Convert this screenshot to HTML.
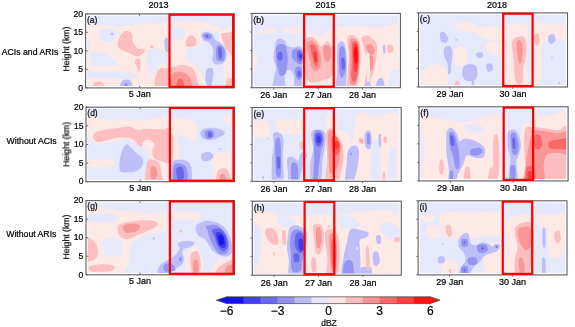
<!DOCTYPE html><html><head><meta charset="utf-8"><style>html,body{margin:0;padding:0;background:#fff;overflow:hidden;}svg{display:block;} text{will-change:transform;}</style></head><body>
<svg width="575" height="327" viewBox="0 0 575 327" font-family='"Liberation Sans", sans-serif'><style>text{stroke:#000;stroke-width:0.22px;}</style>
<defs>
<clipPath id="cp00"><rect x="87.4" y="15.7" width="145.1" height="70.4"/></clipPath>
<clipPath id="cp01"><rect x="253.7" y="15.2" width="144.9" height="70.7"/></clipPath>
<clipPath id="cp02"><rect x="420.3" y="14.7" width="145.4" height="70.5"/></clipPath>
<clipPath id="cp10"><rect x="87.8" y="109.0" width="144.8" height="70.9"/></clipPath>
<clipPath id="cp11"><rect x="253.9" y="109.3" width="145.5" height="70.2"/></clipPath>
<clipPath id="cp12"><rect x="420.8" y="108.6" width="145.5" height="70.5"/></clipPath>
<clipPath id="cp20"><rect x="87.8" y="202.4" width="144.9" height="70.6"/></clipPath>
<clipPath id="cp21"><rect x="254.2" y="203.0" width="145.4" height="70.4"/></clipPath>
<clipPath id="cp22"><rect x="419.9" y="202.6" width="145.3" height="70.5"/></clipPath>
<filter id="bl" x="-5%" y="-5%" width="110%" height="110%"><feGaussianBlur stdDeviation="0.6"/></filter>
</defs>
<g clip-path="url(#cp00)">
<rect x="85.6" y="13.9" width="148.7" height="74.0" fill="#e6e8fc"/>
<g filter="url(#bl)">
<path d="M82.7,26.4C85.4,22.0 92.6,24.9 98.6,24.9C104.6,24.9 111.8,26.6 119.0,26.4C126.2,26.3 134.8,24.4 141.6,24.2C148.5,24.0 156.9,21.4 160.0,25.3C163.1,29.3 161.2,43.2 160.0,47.9C158.8,52.7 156.0,52.5 153.0,53.6C149.9,54.7 146.9,54.9 141.6,54.7C136.4,54.5 126.9,53.2 121.3,52.5C115.6,51.7 114.1,50.4 107.7,50.2C101.2,50.0 86.9,55.3 82.7,51.3C78.6,47.4 80.1,30.9 82.7,26.4Z" fill="#fde9e5"/>
<path d="M157.9,25.3C160.3,18.7 167.9,23.8 172.6,23.1C177.3,22.3 180.9,21.0 186.2,20.8C191.5,20.6 199.0,21.0 204.3,21.9C209.6,22.9 215.6,24.7 217.9,26.4C220.2,28.1 220.2,31.5 217.9,32.1C215.6,32.7 207.0,29.1 204.3,29.8C201.7,30.6 202.6,31.7 202.1,36.6C201.5,41.5 204.3,55.1 200.9,59.3C197.5,63.4 186.9,61.0 181.7,61.5C176.4,62.1 173.2,62.5 169.2,62.7C165.2,62.8 159.8,68.9 157.9,62.7C156.0,56.4 155.4,31.9 157.9,25.3Z" fill="#fde9e5"/>
<path d="M99.7,31.0C100.5,28.9 104.1,28.7 106.5,28.7C109.0,28.7 113.1,29.3 114.5,31.0C115.9,32.7 115.7,37.0 114.9,38.9C114.2,40.8 112.1,41.9 109.9,42.3C107.8,42.7 103.7,43.0 102.0,41.2C100.3,39.3 99.0,33.0 99.7,31.0Z" fill="#e6e8fc"/>
<path d="M82.7,38.9C83.7,37.2 87.3,38.9 88.4,40.0C89.5,41.2 89.7,44.0 89.5,45.7C89.3,47.4 88.4,49.5 87.3,50.2C86.1,51.0 83.5,52.1 82.7,50.2C82.0,48.3 81.8,40.6 82.7,38.9Z" fill="#e6e8fc"/>
<path d="M83.4,49.4C88.9,42.3 105.6,49.9 116.3,49.4C127.0,48.9 137.2,46.8 147.6,46.3C158.0,45.7 173.7,38.7 178.9,46.3C184.1,53.8 194.8,84.0 178.9,91.6C163.0,99.2 99.3,98.6 83.4,91.6C67.5,84.6 78.0,56.4 83.4,49.4Z" fill="#fde9e5"/>
<path d="M84.2,41.6C85.0,40.3 87.9,41.6 88.9,42.3C90.0,43.1 90.5,45.0 90.5,46.3C90.5,47.6 90.0,49.5 88.9,50.2C87.9,50.8 85.0,51.6 84.2,50.2C83.4,48.7 83.4,42.9 84.2,41.6Z" fill="#e6e8fc"/>
<path d="M91.3,53.3C92.8,51.6 97.8,51.5 100.7,51.7C103.5,52.0 106.1,53.6 108.5,54.9C110.8,56.2 113.6,57.9 114.7,59.5C115.9,61.2 117.3,64.1 115.5,65.0C113.7,66.0 107.3,65.2 103.8,65.3C100.3,65.5 96.5,66.4 94.4,65.8C92.3,65.2 91.8,64.0 91.3,61.9C90.7,59.8 89.7,55.0 91.3,53.3Z" fill="#e6e8fc"/>
<path d="M146.8,51.7C147.7,49.3 149.8,49.4 152.3,49.1C154.8,48.7 159.1,48.6 161.7,49.7C164.3,50.8 166.7,52.0 167.6,55.6C168.6,59.2 168.7,68.1 167.2,71.3C165.7,74.4 161.3,74.6 158.6,74.7C155.8,74.8 152.7,73.9 150.7,72.1C148.8,70.2 147.5,66.8 146.8,63.5C146.2,60.1 145.9,54.1 146.8,51.7Z" fill="#e6e8fc"/>
<path d="M84.2,70.5C87.0,69.4 95.3,71.9 100.7,72.1C106.0,72.2 110.6,71.0 116.3,71.3C122.0,71.5 131.7,72.6 135.1,73.6C138.5,74.7 138.5,76.6 136.7,77.5C134.8,78.4 128.8,79.0 124.1,79.1C119.4,79.2 115.1,78.4 108.5,78.3C101.8,78.2 88.3,79.6 84.2,78.3C80.2,77.0 81.5,71.5 84.2,70.5Z" fill="#e6e8fc"/>
<path d="M84.2,49.4C84.7,45.9 86.7,47.6 87.3,49.4C87.9,51.2 87.9,56.8 87.8,60.3C87.7,63.8 87.2,68.8 86.6,70.5C86.0,72.2 84.6,74.0 84.2,70.5C83.8,67.0 83.7,52.9 84.2,49.4Z" fill="#e6e8fc"/>
<path d="M188.5,49.1C190.9,46.6 197.7,44.7 200.9,44.6C204.1,44.4 205.9,45.5 207.7,47.9C209.5,50.4 211.9,56.2 211.6,59.3C211.2,62.4 208.5,65.4 205.5,66.5C202.4,67.6 196.2,66.8 193.0,65.6C189.8,64.4 186.9,62.0 186.2,59.3C185.4,56.5 186.0,51.5 188.5,49.1Z" fill="#e6e8fc"/>
<path d="M171.5,29.4C173.0,27.7 179.4,27.2 181.7,28.0C184.0,28.9 185.3,32.5 185.3,34.4C185.3,36.3 183.8,38.7 181.7,39.3C179.5,40.0 174.3,40.1 172.6,38.4C170.9,36.8 170.0,31.1 171.5,29.4Z" fill="#e6e8fc"/>
<path d="M219.0,31.0C220.0,28.0 224.1,30.0 227.0,29.8C229.8,29.7 234.5,19.7 236.0,29.8C237.5,40.0 237.9,80.8 236.0,90.9C234.2,101.1 226.8,94.3 224.7,90.9C222.6,87.5 224.1,77.7 223.6,70.6C223.0,63.4 222.1,54.5 221.3,47.9C220.6,41.3 218.1,34.0 219.0,31.0Z" fill="#fde9e5"/>
<path d="M122.4,33.2C123.3,32.3 124.5,31.2 125.8,31.0C127.1,30.8 129.2,31.2 130.3,32.1C131.5,33.0 132.1,34.9 132.6,36.6C133.0,38.3 132.3,40.4 133.0,42.3C133.8,44.2 135.7,46.8 137.1,47.9C138.5,49.1 140.3,48.7 141.6,49.1C143.0,49.5 144.9,49.5 145.0,50.2C145.2,51.0 143.7,52.7 142.8,53.6C141.8,54.5 140.7,55.5 139.4,55.9C138.1,56.2 136.4,56.2 134.8,55.9C133.3,55.5 132.0,54.4 130.3,53.6C128.6,52.8 126.5,52.3 124.7,51.3C122.8,50.4 120.1,49.3 119.0,47.9C117.9,46.6 117.7,45.3 117.9,43.4C118.0,41.5 119.4,38.3 120.1,36.6C120.9,34.9 121.4,34.2 122.4,33.2Z" fill="#fcbebe"/>
<path d="M136.0,59.3C136.7,58.6 138.6,58.2 139.4,58.8C140.1,59.4 140.4,60.7 140.5,62.7C140.6,64.6 140.2,69.1 139.8,70.6C139.5,72.1 138.8,72.5 138.2,71.7C137.7,71.0 137.2,67.6 136.7,66.0C136.1,64.5 135.0,63.8 134.8,62.7C134.7,61.5 135.2,59.9 136.0,59.3Z" fill="#fcbebe"/>
<path d="M153.7,46.8C153.7,47.1 153.4,47.5 153.1,47.8C152.8,48.0 152.3,48.2 151.8,48.2C151.4,48.2 150.9,48.0 150.6,47.8C150.3,47.5 150.0,47.1 150.0,46.8C150.0,46.5 150.3,46.1 150.6,45.9C150.9,45.6 151.4,45.5 151.8,45.5C152.3,45.5 152.8,45.6 153.1,45.9C153.4,46.1 153.7,46.5 153.7,46.8Z" fill="#fcbebe"/>
<path d="M94.1,83.0C95.0,81.4 97.1,81.4 98.6,81.4C100.1,81.4 102.2,81.4 103.1,83.0C104.1,84.6 106.0,89.6 104.3,90.9C102.6,92.3 94.6,92.3 92.9,90.9C91.2,89.6 93.1,84.6 94.1,83.0Z" fill="#fcbebe"/>
<path d="M126.2,36.6C126.2,36.9 126.2,37.2 126.1,37.4C126.0,37.6 125.9,37.8 125.8,37.8C125.7,37.8 125.5,37.6 125.5,37.4C125.4,37.2 125.3,36.9 125.3,36.6C125.3,36.4 125.4,36.0 125.5,35.8C125.5,35.6 125.7,35.5 125.8,35.5C125.9,35.5 126.0,35.6 126.1,35.8C126.2,36.0 126.2,36.4 126.2,36.6Z" fill="#fa9696"/>
<path d="M125.8,45.7C125.8,45.8 125.7,46.0 125.7,46.2C125.6,46.3 125.4,46.4 125.3,46.4C125.2,46.4 125.1,46.3 125.0,46.2C124.9,46.0 124.9,45.8 124.9,45.7C124.9,45.5 124.9,45.3 125.0,45.2C125.1,45.1 125.2,45.0 125.3,45.0C125.4,45.0 125.6,45.1 125.7,45.2C125.7,45.3 125.8,45.5 125.8,45.7Z" fill="#fa9696"/>
<path d="M99.5,36.2C99.5,36.3 99.4,36.4 99.4,36.5C99.3,36.6 99.2,36.6 99.0,36.6C98.9,36.6 98.8,36.6 98.7,36.5C98.7,36.4 98.6,36.3 98.6,36.2C98.6,36.1 98.7,35.9 98.7,35.9C98.8,35.8 98.9,35.7 99.0,35.7C99.2,35.7 99.3,35.8 99.4,35.9C99.4,35.9 99.5,36.1 99.5,36.2Z" fill="#fcbebe"/>
<path d="M113.8,33.9C113.8,34.2 113.6,34.6 113.3,34.9C113.0,35.1 112.6,35.3 112.2,35.3C111.8,35.3 111.3,35.1 111.1,34.9C110.8,34.6 110.6,34.2 110.6,33.9C110.6,33.6 110.8,33.2 111.1,33.0C111.3,32.7 111.8,32.6 112.2,32.6C112.6,32.6 113.0,32.7 113.3,33.0C113.6,33.2 113.8,33.6 113.8,33.9Z" fill="#bebef8"/>
<path d="M121.3,81.9C122.2,80.0 124.3,79.8 125.8,79.6C127.3,79.4 129.2,79.8 130.3,80.8C131.5,81.7 132.0,83.6 132.6,85.3C133.1,87.0 135.8,90.0 133.7,90.9C131.6,91.9 122.2,92.5 120.1,90.9C118.0,89.4 120.3,83.8 121.3,81.9Z" fill="#bebef8"/>
<path d="M123.1,86.0C123.6,84.6 124.9,83.0 125.8,83.0C126.7,83.0 127.9,84.6 128.5,86.0C129.1,87.3 130.2,90.1 129.2,90.9C128.2,91.8 123.4,91.8 122.4,90.9C121.4,90.1 122.5,87.3 123.1,86.0Z" fill="#9494f2"/>
<path d="M164.7,38.9C165.2,37.7 167.3,37.5 168.1,38.4C168.8,39.4 169.1,42.4 169.2,44.6C169.3,46.7 169.1,50.2 168.5,51.3C168.0,52.5 166.4,52.3 165.8,51.3C165.2,50.4 164.9,47.8 164.7,45.7C164.5,43.6 164.1,40.1 164.7,38.9Z" fill="#bebef8"/>
<path d="M186.2,40.0C186.8,38.7 188.3,36.1 189.6,35.5C190.9,34.9 193.0,35.5 194.1,36.6C195.3,37.8 196.2,40.8 196.4,42.3C196.6,43.8 196.8,44.9 195.3,45.7C193.7,46.4 188.9,47.2 187.3,46.8C185.7,46.4 185.9,44.6 185.7,43.4C185.5,42.3 185.5,41.3 186.2,40.0Z" fill="#fcbebe"/>
<path d="M221.3,34.4C221.7,32.3 224.5,33.4 227.0,33.2C229.4,33.0 234.5,28.9 236.0,33.2C237.5,37.6 237.2,56.1 236.0,59.3C234.9,62.5 231.1,54.7 229.2,52.5C227.4,50.2 226.0,48.7 224.7,45.7C223.4,42.7 220.9,36.4 221.3,34.4Z" fill="#fcbebe"/>
<path d="M201.6,34.4C202.0,33.0 203.7,32.2 205.5,32.1C207.2,32.0 210.5,32.6 212.2,33.9C213.9,35.2 214.1,38.4 215.6,40.0C217.2,41.6 219.6,41.9 221.3,43.4C223.0,44.9 225.0,46.6 225.8,49.1C226.7,51.5 226.8,55.8 226.3,58.1C225.8,60.5 224.7,62.3 222.9,63.3C221.1,64.4 217.4,64.9 215.6,64.2C213.9,63.6 212.6,61.6 212.2,59.3C211.9,56.9 213.8,52.8 213.4,50.2C213.0,47.6 211.7,45.1 210.0,43.4C208.3,41.7 204.6,41.5 203.2,40.0C201.8,38.5 201.2,35.7 201.6,34.4Z" fill="#bebef8"/>
<path d="M203.2,34.8C203.4,33.9 205.6,33.1 207.0,33.2C208.4,33.3 211.0,34.6 211.6,35.5C212.2,36.4 211.7,38.3 210.7,38.9C209.6,39.5 206.7,39.6 205.5,38.9C204.2,38.2 202.9,35.8 203.2,34.8Z" fill="#9494f2"/>
<path d="M216.8,46.8C217.5,45.2 218.9,44.9 220.2,45.2C221.4,45.6 223.5,47.1 224.3,49.1C225.0,51.0 225.0,55.0 224.7,57.0C224.4,59.0 223.7,60.5 222.4,61.1C221.2,61.6 218.5,61.4 217.5,60.4C216.4,59.3 216.2,57.0 216.1,54.7C216.0,52.5 216.1,48.4 216.8,46.8Z" fill="#9494f2"/>
<path d="M208.6,36.2C208.6,36.4 208.4,36.8 208.2,37.0C207.9,37.2 207.4,37.3 207.0,37.3C206.7,37.3 206.2,37.2 205.9,37.0C205.7,36.8 205.5,36.4 205.5,36.2C205.5,35.9 205.7,35.6 205.9,35.4C206.2,35.2 206.7,35.0 207.0,35.0C207.4,35.0 207.9,35.2 208.2,35.4C208.4,35.6 208.6,35.9 208.6,36.2Z" fill="#6868ec"/>
<path d="M218.4,47.9C218.7,46.9 220.0,46.9 220.6,47.5C221.2,48.1 221.8,49.6 222.0,51.3C222.1,53.1 222.0,57.0 221.5,58.1C221.1,59.3 219.8,58.9 219.3,58.1C218.7,57.4 218.5,55.3 218.4,53.6C218.2,51.9 218.0,49.0 218.4,47.9Z" fill="#6868ec"/>
<path d="M206.6,69.4C207.7,67.9 211.1,67.6 212.2,68.3C213.4,69.1 213.4,71.7 213.4,74.0C213.4,76.2 212.8,79.1 212.2,81.9C211.7,84.7 211.1,89.4 210.0,90.9C208.8,92.5 206.2,93.2 205.5,90.9C204.7,88.7 205.3,80.9 205.5,77.4C205.6,73.8 205.5,71.0 206.6,69.4Z" fill="#bebef8"/>
<path d="M157.9,68.3C159.6,63.6 164.1,64.0 168.1,62.7C172.0,61.3 177.5,60.4 181.7,60.4C185.8,60.4 190.2,61.3 193.0,62.7C195.8,64.0 197.0,65.9 198.7,68.3C200.4,70.8 202.2,73.6 203.2,77.4C204.1,81.1 211.9,88.7 204.3,90.9C196.8,93.2 165.6,94.7 157.9,90.9C150.1,87.2 156.2,73.0 157.9,68.3Z" fill="#fde9e5"/>
<path d="M157.9,70.6C159.9,66.7 166.4,68.8 170.3,67.9C174.3,66.9 178.1,65.0 181.7,64.9C185.2,64.8 189.6,65.9 191.9,67.2C194.1,68.5 194.3,70.4 195.3,72.8C196.2,75.3 197.1,78.9 197.5,81.9C197.9,84.9 204.1,89.4 197.5,90.9C190.9,92.5 164.5,94.3 157.9,90.9C151.3,87.5 155.8,74.4 157.9,70.6Z" fill="#fcbebe"/>
<path d="M171.5,75.1C172.8,71.9 176.9,71.9 179.4,71.7C181.8,71.5 184.3,72.6 186.2,74.0C188.1,75.3 190.0,76.8 190.7,79.6C191.5,82.5 193.9,89.1 190.7,90.9C187.5,92.8 174.7,93.6 171.5,90.9C168.3,88.3 170.1,78.3 171.5,75.1Z" fill="#fa9696"/>
<path d="M177.1,81.9C177.9,79.8 179.4,78.3 180.5,78.5C181.7,78.7 183.4,80.9 183.9,83.0C184.4,85.1 184.8,89.6 183.5,90.9C182.1,92.3 177.1,92.5 176.0,90.9C174.9,89.4 176.4,84.0 177.1,81.9Z" fill="#fa6969"/>
<path d="M227.0,79.6C228.5,77.6 234.5,76.6 236.0,78.5C237.5,80.4 237.5,88.9 236.0,90.9C234.5,93.0 228.5,92.8 227.0,90.9C225.5,89.1 225.5,81.7 227.0,79.6Z" fill="#fcbebe"/>
</g>
</g>
<g clip-path="url(#cp01)">
<rect x="251.9" y="13.4" width="148.5" height="74.3" fill="#e6e8fc"/>
<g filter="url(#bl)">
<path d="M260.1,29.8C262.5,29.1 271.0,27.7 273.7,28.0C276.3,28.4 277.4,31.1 275.9,32.1C274.4,33.1 267.4,33.8 264.6,33.9C261.8,34.0 259.7,33.2 258.9,32.6C258.2,31.9 257.6,30.6 260.1,29.8Z" fill="#fde9e5"/>
<path d="M282.7,28.0C284.6,27.2 292.9,27.3 296.3,27.6C299.7,27.9 302.7,28.9 303.1,29.8C303.5,30.8 301.6,32.8 298.6,33.2C295.6,33.7 287.6,33.4 285.0,32.6C282.3,31.7 280.8,28.9 282.7,28.0Z" fill="#fde9e5"/>
<path d="M249.9,51.3C250.8,47.9 254.3,50.8 255.5,52.5C256.8,54.2 257.3,58.3 257.3,61.5C257.3,64.7 256.8,69.8 255.5,71.7C254.3,73.6 250.8,76.2 249.9,72.8C248.9,69.4 248.9,54.7 249.9,51.3Z" fill="#fde9e5"/>
<path d="M336.3,27.6C339.7,25.7 351.4,26.4 359.0,26.4C366.5,26.4 374.8,27.2 381.6,27.6C388.5,28.0 396.9,18.6 400.0,28.7C403.1,38.8 402.7,78.1 400.0,88.0C397.3,97.9 387.3,90.9 383.9,88.0C380.5,85.1 380.3,77.6 379.4,70.6C378.4,63.5 379.0,51.0 378.2,45.7C377.5,40.4 381.5,40.2 374.8,38.9C368.2,37.6 345.0,39.6 338.6,37.8C332.2,35.9 332.9,29.5 336.3,27.6Z" fill="#fde9e5"/>
<path d="M338.6,37.8C345.0,29.6 368.2,37.6 374.8,38.9C381.5,40.2 377.5,37.5 378.2,45.7C379.0,53.9 386.4,80.9 379.4,88.0C372.4,95.1 343.1,96.4 336.3,88.0C329.5,79.6 332.2,45.9 338.6,37.8Z" fill="#fde9e5"/>
<path d="M274.8,47.9C275.2,44.9 275.5,42.3 276.4,40.7C277.2,39.1 278.6,38.4 280.0,38.4C281.4,38.4 283.8,39.5 285.0,40.7C286.2,41.9 285.7,44.6 287.3,45.7C288.8,46.8 292.0,47.4 294.1,47.5C296.1,47.6 298.1,45.9 299.7,46.4C301.3,46.8 302.7,48.1 303.6,50.2C304.4,52.4 304.7,55.9 304.7,59.3C304.7,62.7 304.0,67.2 303.6,70.6C303.1,74.0 302.6,76.2 302.0,79.6C301.3,83.0 304.2,89.1 299.7,90.9C295.2,92.8 279.1,92.8 274.8,90.9C270.4,89.1 273.5,83.4 273.7,79.6C273.8,75.9 275.9,71.7 275.9,68.3C275.9,64.9 273.8,62.7 273.7,59.3C273.5,55.9 274.3,51.0 274.8,47.9Z" fill="#bebef8"/>
<path d="M285.0,71.7C285.9,69.8 289.1,69.6 290.7,70.6C292.2,71.5 293.7,74.0 294.1,77.4C294.4,80.8 294.1,88.7 292.9,90.9C291.8,93.2 288.6,92.5 287.3,90.9C285.9,89.4 285.4,85.1 285.0,81.9C284.6,78.7 284.0,73.6 285.0,71.7Z" fill="#e6e8fc"/>
<path d="M277.1,45.7C278.2,43.9 281.2,43.7 282.7,44.1C284.3,44.5 285.5,45.4 286.3,47.9C287.2,50.5 287.6,55.9 287.7,59.3C287.8,62.7 287.3,65.7 286.8,68.3C286.3,70.9 286.0,73.4 285.0,74.6C283.9,75.9 281.7,76.6 280.5,75.6C279.2,74.5 278.5,71.8 277.7,68.3C277.0,64.8 276.0,58.5 275.9,54.7C275.8,51.0 275.9,47.5 277.1,45.7Z" fill="#9494f2"/>
<path d="M292.9,50.2C294.1,48.8 297.0,48.2 298.6,48.6C300.2,49.0 301.8,50.3 302.7,52.5C303.6,54.6 304.5,59.6 304.0,61.5C303.5,63.5 301.2,64.2 299.7,64.2C298.2,64.2 296.5,62.7 295.2,61.5C293.9,60.3 292.2,58.9 291.8,57.0C291.4,55.1 291.8,51.6 292.9,50.2Z" fill="#9494f2"/>
<path d="M295.2,68.3C295.9,66.5 299.7,66.0 300.8,67.2C302.0,68.3 302.4,73.0 302.2,75.1C302.0,77.3 300.7,79.6 299.7,80.1C298.7,80.5 297.1,79.8 296.3,77.8C295.6,75.9 294.4,70.1 295.2,68.3Z" fill="#9494f2"/>
<path d="M278.2,52.9C278.9,51.9 280.8,51.2 281.6,52.0C282.3,52.9 283.0,56.7 282.7,58.1C282.5,59.6 280.9,60.8 280.0,60.8C279.1,60.8 277.8,59.4 277.5,58.1C277.2,56.8 277.5,53.9 278.2,52.9Z" fill="#6868ec"/>
<path d="M297.5,51.3C298.1,50.5 300.4,50.7 301.3,51.8C302.2,52.9 303.4,56.5 303.1,58.1C302.8,59.8 300.5,61.7 299.5,61.5C298.5,61.3 297.6,58.7 297.2,57.0C296.9,55.3 296.8,52.2 297.5,51.3Z" fill="#6868ec"/>
<path d="M297.5,71.7C297.9,70.8 299.8,70.5 300.4,71.3C301.0,72.0 301.3,75.4 300.8,76.2C300.4,77.1 298.2,77.2 297.7,76.5C297.1,75.7 297.0,72.6 297.5,71.7Z" fill="#6868ec"/>
<path d="M301.8,56.1C301.8,56.6 301.6,57.3 301.4,57.7C301.1,58.1 300.7,58.4 300.4,58.4C300.1,58.4 299.7,58.1 299.4,57.7C299.2,57.3 299.0,56.6 299.0,56.1C299.0,55.6 299.2,54.9 299.4,54.5C299.7,54.1 300.1,53.8 300.4,53.8C300.7,53.8 301.1,54.1 301.4,54.5C301.6,54.9 301.8,55.6 301.8,56.1Z" fill="#3c3ce8"/>
<path d="M305.4,34.8C307.7,25.6 314.7,35.6 319.4,35.5C324.0,35.4 331.1,25.1 333.4,34.4C335.7,43.6 338.1,81.5 333.4,90.9C328.7,100.4 310.0,100.3 305.4,90.9C300.7,81.6 303.0,44.1 305.4,34.8Z" fill="#fde9e5"/>
<path d="M306.3,38.4C307.3,37.0 309.8,36.8 311.5,37.1C313.2,37.3 314.9,38.5 316.4,40.0C317.9,41.6 319.3,45.7 320.5,46.4C321.8,47.0 322.7,44.7 323.9,43.9C325.1,43.1 326.3,41.4 327.5,41.6C328.7,41.8 330.2,43.8 331.1,45.2C332.1,46.7 333.0,46.0 333.4,50.2C333.8,54.4 333.9,66.0 333.4,70.6C332.9,75.2 331.8,76.2 330.2,77.8C328.6,79.4 326.1,79.4 323.9,80.1C321.7,80.8 319.4,81.6 317.1,81.9C314.9,82.2 312.1,82.6 310.3,81.9C308.5,81.1 307.1,81.1 306.3,77.4C305.4,73.6 305.5,64.5 305.4,59.3C305.2,54.0 305.2,49.2 305.4,45.7C305.5,42.2 305.3,39.9 306.3,38.4Z" fill="#fcbebe"/>
<path d="M307.6,42.1C308.6,40.9 311.0,40.2 312.6,40.7C314.2,41.2 316.2,43.5 317.3,45.2C318.5,47.0 319.0,49.0 319.6,51.3C320.2,53.7 321.0,56.4 321.0,59.3C321.0,62.1 320.6,66.4 319.6,68.3C318.6,70.3 316.3,71.4 314.9,71.0C313.5,70.7 312.2,68.4 311.2,66.0C310.3,63.7 309.7,60.0 309.0,57.0C308.2,54.0 306.9,50.4 306.7,47.9C306.5,45.5 306.6,43.3 307.6,42.1Z" fill="#fa9696"/>
<path d="M323.4,47.0C324.2,45.3 327.1,44.7 328.4,45.2C329.7,45.8 330.9,47.9 331.1,50.2C331.4,52.5 330.8,57.3 330.0,59.3C329.2,61.2 327.2,62.5 326.2,62.0C325.1,61.4 324.1,58.4 323.7,55.9C323.2,53.4 322.7,48.8 323.4,47.0Z" fill="#fa9696"/>
<path d="M310.1,45.2C310.7,44.3 312.8,43.9 314.0,44.8C315.1,45.6 316.1,47.8 316.9,50.2C317.6,52.6 318.4,56.7 318.5,59.3C318.5,61.8 318.1,64.8 317.3,65.6C316.6,66.4 315.0,65.7 314.2,64.2C313.4,62.8 313.0,59.3 312.4,57.0C311.8,54.7 310.9,52.2 310.6,50.2C310.2,48.2 309.5,46.1 310.1,45.2Z" fill="#fa6969"/>
<path d="M313.5,52.0C313.9,51.1 315.6,51.1 316.2,52.5C316.8,53.9 317.3,58.8 317.1,60.4C317.0,62.0 315.9,62.4 315.3,62.0C314.7,61.6 314.0,59.8 313.7,58.1C313.4,56.5 313.1,53.0 313.5,52.0Z" fill="#fa3c3c"/>
<path d="M319.8,84.6C319.8,85.1 319.5,85.8 319.0,86.2C318.6,86.6 317.8,86.9 317.1,86.9C316.5,86.9 315.7,86.6 315.2,86.2C314.7,85.8 314.4,85.1 314.4,84.6C314.4,84.1 314.7,83.4 315.2,83.0C315.7,82.6 316.5,82.3 317.1,82.3C317.8,82.3 318.6,82.6 319.0,83.0C319.5,83.4 319.8,84.1 319.8,84.6Z" fill="#e6e8fc"/>
<path d="M338.1,43.4C339.1,41.3 341.9,41.1 343.1,41.8C344.4,42.6 345.0,45.0 345.6,47.9C346.2,50.8 346.5,55.1 346.7,59.3C346.9,63.4 347.1,67.6 346.7,72.8C346.4,78.1 346.5,87.9 344.7,90.9C342.9,94.0 337.3,94.3 336.1,90.9C334.9,87.5 337.0,76.6 337.2,70.6C337.4,64.5 337.1,59.3 337.2,54.7C337.4,50.2 337.2,45.6 338.1,43.4Z" fill="#bebef8"/>
<path d="M339.9,47.9C340.7,45.9 342.8,45.5 343.8,47.0C344.7,48.5 345.3,53.1 345.6,57.0C345.9,60.9 346.2,67.1 345.6,70.6C345.0,74.0 343.2,77.4 342.2,77.8C341.2,78.2 340.0,75.9 339.5,72.8C339.0,69.7 339.0,63.4 339.0,59.3C339.1,55.1 339.2,50.0 339.9,47.9Z" fill="#9494f2"/>
<path d="M341.3,58.8C341.7,57.1 343.6,57.4 344.2,58.8C344.8,60.2 345.3,65.7 344.9,67.4C344.5,69.1 342.6,70.2 342.0,68.8C341.4,67.3 340.9,60.5 341.3,58.8Z" fill="#6868ec"/>
<path d="M348.1,36.6C349.1,35.2 351.7,34.7 353.3,35.0C354.9,35.3 356.6,36.7 357.8,38.4C359.0,40.2 359.9,41.5 360.3,45.7C360.7,49.9 360.7,58.1 360.3,63.8C359.9,69.4 358.7,75.1 358.0,79.6C357.3,84.2 357.8,89.1 356.0,90.9C354.2,92.8 348.7,94.3 347.4,90.9C346.1,87.5 347.8,76.6 348.1,70.6C348.3,64.5 349.1,59.3 349.0,54.7C348.9,50.2 347.6,46.4 347.4,43.4C347.3,40.4 347.1,38.0 348.1,36.6Z" fill="#fcbebe"/>
<path d="M350.1,40.0C350.9,36.6 353.2,38.3 354.6,38.9C356.0,39.5 357.7,40.0 358.5,43.4C359.2,46.8 359.3,53.6 359.2,59.3C359.0,64.9 358.5,73.2 357.8,77.4C357.1,81.5 356.4,83.4 355.1,84.2C353.8,84.9 350.7,86.0 349.9,81.9C349.1,77.7 350.1,66.2 350.1,59.3C350.2,52.3 349.4,43.4 350.1,40.0Z" fill="#fa9696"/>
<path d="M352.1,43.4C352.9,40.6 355.5,40.8 356.7,42.3C357.8,43.8 358.7,47.4 358.9,52.5C359.1,57.6 358.5,67.9 357.8,72.8C357.1,77.7 355.7,81.1 354.6,81.9C353.6,82.6 351.9,81.1 351.5,77.4C351.1,73.6 352.0,64.9 352.1,59.3C352.3,53.6 351.4,46.2 352.1,43.4Z" fill="#fa6969"/>
<path d="M353.5,45.7C354.1,41.8 356.6,43.0 357.3,45.2C358.1,47.5 358.4,55.0 358.2,59.3C358.1,63.6 357.4,69.4 356.7,71.0C356.0,72.6 354.5,73.0 354.0,68.8C353.4,64.5 352.9,49.6 353.5,45.7Z" fill="#fa3c3c"/>
<path d="M354.4,48.4C354.9,47.0 356.6,46.4 357.1,48.4C357.6,50.4 357.8,57.9 357.6,60.4C357.3,62.9 356.1,63.9 355.5,63.3C355.0,62.8 354.4,59.5 354.2,57.0C354.0,54.5 353.9,49.8 354.4,48.4Z" fill="#fa0a0a"/>
<path d="M361.9,37.1C363.0,35.9 368.6,34.9 370.0,36.2C371.4,37.4 371.1,43.3 370.0,44.6C368.9,45.8 364.8,44.7 363.4,43.4C362.1,42.2 360.8,38.3 361.9,37.1Z" fill="#fcbebe"/>
<path d="M364.0,41.2C365.2,39.6 369.3,37.9 371.5,38.4C373.6,39.0 375.9,41.1 376.7,44.6C377.5,48.0 376.7,54.9 376.2,59.3C375.8,63.6 374.8,67.2 373.9,70.6C373.0,74.0 371.7,76.6 370.8,79.6C369.9,82.6 369.6,87.2 368.5,88.7C367.4,90.2 364.8,91.3 364.4,88.7C364.0,86.0 365.8,77.7 366.2,72.8C366.7,67.9 367.5,63.4 367.1,59.3C366.8,55.1 364.5,51.0 364.0,47.9C363.4,44.9 362.7,42.7 364.0,41.2Z" fill="#fcbebe"/>
<path d="M366.2,45.7C366.7,44.4 370.1,43.8 371.5,44.6C372.8,45.3 374.2,48.5 374.4,50.2C374.6,51.9 373.6,54.4 372.6,54.7C371.6,55.1 369.6,54.0 368.5,52.5C367.4,51.0 365.7,47.0 366.2,45.7Z" fill="#fa9696"/>
<path d="M369.2,55.9C369.9,54.7 372.5,54.9 373.0,57.0C373.6,59.1 373.1,66.0 372.6,68.3C372.1,70.6 370.5,71.3 369.9,70.6C369.2,69.8 368.6,66.2 368.5,63.8C368.4,61.3 368.4,57.0 369.2,55.9Z" fill="#fa9696"/>
<path d="M366.5,55.9C366.8,51.3 368.4,52.2 369.0,54.3C369.6,56.4 370.0,63.7 370.1,68.3C370.2,72.9 369.9,79.6 369.4,81.9C368.9,84.2 367.6,86.2 367.1,81.9C366.7,77.6 366.2,60.5 366.5,55.9Z" fill="#fde9e5"/>
<path d="M387.3,45.7C388.0,44.7 390.8,44.5 391.8,45.2C392.9,46.0 393.6,48.9 393.4,50.2C393.2,51.5 391.7,52.7 390.7,52.9C389.7,53.1 388.1,52.5 387.5,51.3C387.0,50.1 386.6,46.7 387.3,45.7Z" fill="#fcbebe"/>
<path d="M382.8,45.7C383.0,44.4 384.6,44.1 385.0,45.2C385.5,46.4 385.8,51.2 385.5,52.5C385.2,53.8 383.9,54.1 383.5,52.9C383.0,51.8 382.5,47.0 382.8,45.7Z" fill="#bebef8"/>
<path d="M377.1,80.8C378.1,78.7 381.6,76.8 382.8,78.5C384.0,80.2 385.4,88.9 384.4,90.9C383.3,93.0 377.9,92.6 376.7,90.9C375.5,89.2 376.1,82.8 377.1,80.8Z" fill="#bebef8"/>
<path d="M365.3,83.0C366.2,81.5 369.0,80.6 369.9,81.9C370.8,83.2 371.6,89.4 370.8,90.9C369.9,92.5 365.8,92.3 364.9,90.9C364.0,89.6 364.5,84.5 365.3,83.0Z" fill="#bebef8"/>
<path d="M390.7,72.8C392.6,69.4 398.5,67.6 400.0,70.6C401.5,73.6 401.9,87.5 400.0,90.9C398.1,94.3 390.0,94.0 388.4,90.9C386.9,87.9 388.8,76.2 390.7,72.8Z" fill="#e6e8fc"/>
</g>
</g>
<g clip-path="url(#cp02)">
<rect x="418.5" y="12.9" width="149.0" height="74.1" fill="#e6e8fc"/>
<g filter="url(#bl)">
<path d="M456.4,24.0C458.3,22.6 466.5,22.1 470.0,22.6C473.5,23.1 474.6,26.4 477.2,27.1C479.9,27.8 481.4,26.5 485.8,26.7C490.3,26.8 500.9,25.9 503.9,28.0C506.9,30.1 506.1,37.3 503.9,39.3C501.7,41.4 494.5,40.6 490.8,40.3C487.1,39.9 484.8,38.4 481.8,37.1C478.7,35.8 476.1,33.6 472.3,32.6C468.4,31.5 461.3,32.2 458.7,30.7C456.1,29.3 454.5,25.3 456.4,24.0Z" fill="#fde9e5"/>
<path d="M455.3,48.4C456.8,46.7 461.2,45.9 463.2,46.8C465.2,47.7 466.8,50.7 467.3,53.6C467.7,56.5 467.7,62.3 465.9,64.2C464.2,66.2 458.8,66.4 456.9,65.1C454.9,63.9 454.4,59.8 454.2,57.0C453.9,54.2 453.8,50.1 455.3,48.4Z" fill="#fde9e5"/>
<path d="M486.9,43.0C488.6,41.5 494.3,41.7 497.1,41.6C499.9,41.5 502.8,40.0 503.9,42.3C505.0,44.6 505.6,53.1 503.9,55.2C502.2,57.3 496.6,55.6 493.7,54.7C490.9,53.9 488.1,52.2 486.9,50.2C485.8,48.2 485.3,44.4 486.9,43.0Z" fill="#fde9e5"/>
<path d="M424.8,68.8C427.1,64.5 434.6,64.5 438.3,65.1C442.1,65.7 446.2,68.1 447.4,72.4C448.6,76.7 449.4,87.8 445.6,90.9C441.7,94.0 427.8,94.6 424.3,90.9C420.9,87.2 422.4,73.1 424.8,68.8Z" fill="#fde9e5"/>
<path d="M505.6,26.4C508.4,23.0 517.9,23.8 521.7,24.3C525.4,24.9 527.4,22.6 528.1,29.5C528.9,36.4 526.3,55.6 526.3,65.7C526.3,75.9 531.7,86.2 528.1,90.3C524.5,94.4 508.5,94.4 504.8,90.3C501.1,86.2 506.1,73.3 506.1,65.7C506.1,58.2 504.9,51.6 504.8,45.0C504.7,38.5 502.8,29.9 505.6,26.4Z" fill="#fde9e5"/>
<path d="M533.3,25.6C536.6,22.2 546.9,24.1 552.7,24.3C558.6,24.6 565.7,24.6 568.3,26.9C570.9,29.3 571.8,36.4 568.3,38.6C564.8,40.7 552.3,38.4 547.6,39.9C542.8,41.4 542.2,46.8 539.8,47.6C537.4,48.5 534.4,48.7 533.3,45.0C532.2,41.4 530.1,29.1 533.3,25.6Z" fill="#fde9e5"/>
<path d="M532.5,30.0C533.7,19.7 538.4,18.2 539.8,28.2C541.2,38.3 542.0,80.0 540.8,90.3C539.6,100.7 533.9,100.4 532.5,90.3C531.2,80.3 531.3,40.4 532.5,30.0Z" fill="#fde9e5"/>
<path d="M512.1,42.2C512.5,39.7 513.6,38.8 515.4,37.8C517.3,36.9 521.4,35.6 523.2,36.5C525.0,37.5 525.9,39.7 526.3,43.5C526.7,47.3 526.1,55.1 525.5,59.3C525.0,63.4 523.7,64.6 523.2,68.3C522.7,72.1 523.6,79.2 522.7,81.8C521.7,84.4 518.8,84.9 517.5,84.1C516.2,83.4 515.5,80.8 514.9,77.4C514.4,74.0 514.5,68.1 514.1,63.9C513.7,59.8 512.9,56.2 512.6,52.6C512.2,48.9 511.6,44.7 512.1,42.2Z" fill="#fcbebe"/>
<path d="M516.5,42.2C517.0,40.2 519.3,39.7 520.4,40.7C521.4,41.6 522.5,44.4 522.7,47.9C522.9,51.4 522.3,59.2 521.7,61.6C521.0,64.1 519.5,64.2 518.8,62.6C518.1,61.1 517.6,56.0 517.2,52.6C516.9,49.1 516.0,44.2 516.5,42.2Z" fill="#fa9696"/>
<path d="M534.1,34.7C534.9,33.7 537.6,32.4 538.5,33.7C539.4,35.0 539.9,40.5 539.5,42.5C539.1,44.4 537.1,46.0 536.2,45.6C535.2,45.1 534.2,41.7 533.8,39.9C533.5,38.1 533.3,35.7 534.1,34.7Z" fill="#fcbebe"/>
<path d="M455.6,81.8C456.3,80.3 458.3,79.8 458.9,81.3C459.6,82.7 460.2,88.8 459.5,90.3C458.8,91.8 455.4,91.8 454.8,90.3C454.1,88.9 454.9,83.3 455.6,81.8Z" fill="#fcbebe"/>
<path d="M440.0,33.4C440.5,31.9 442.6,31.3 443.9,32.1C445.3,32.9 447.6,36.3 448.1,38.1C448.5,39.8 447.6,41.9 446.5,42.5C445.4,43.0 442.4,42.9 441.3,41.4C440.2,39.9 439.6,35.0 440.0,33.4Z" fill="#bebef8"/>
<path d="M444.7,47.6C445.7,46.1 448.8,45.2 450.1,46.1C451.4,46.9 452.3,49.5 452.5,52.8C452.6,56.1 451.5,62.5 451.2,65.7C450.9,69.0 451.1,71.1 450.7,72.5C450.2,73.9 448.8,75.6 448.3,74.0C447.8,72.5 448.3,66.3 447.5,63.2C446.8,60.1 444.4,58.0 443.9,55.4C443.4,52.8 443.7,49.2 444.7,47.6Z" fill="#bebef8"/>
<path d="M463.3,67.0C464.6,65.2 467.7,64.0 469.8,63.9C472.0,63.9 475.1,64.5 476.3,66.5C477.6,68.6 477.8,73.8 477.3,76.1C476.9,78.4 475.6,79.8 473.7,80.5C471.8,81.2 467.8,81.4 465.9,80.5C464.0,79.6 462.7,77.3 462.3,75.1C461.9,72.8 462.1,68.9 463.3,67.0Z" fill="#bebef8"/>
<path d="M475.5,54.1C475.8,53.2 479.7,52.1 481.0,52.3C482.3,52.5 483.6,54.4 483.3,55.4C483.0,56.3 480.5,58.2 479.2,58.0C477.9,57.8 475.2,55.1 475.5,54.1Z" fill="#bebef8"/>
<path d="M486.4,64.7C487.0,63.4 490.5,63.1 491.6,63.9C492.7,64.8 493.5,68.3 492.9,69.6C492.3,70.9 489.0,72.5 488.0,71.7C486.9,70.9 485.8,66.0 486.4,64.7Z" fill="#bebef8"/>
<path d="M457.6,39.9C457.6,40.1 457.5,40.3 457.3,40.4C457.1,40.6 456.7,40.7 456.4,40.7C456.0,40.7 455.7,40.6 455.4,40.4C455.2,40.3 455.1,40.1 455.1,39.9C455.1,39.7 455.2,39.5 455.4,39.3C455.7,39.2 456.0,39.1 456.4,39.1C456.7,39.1 457.1,39.2 457.3,39.3C457.5,39.5 457.6,39.7 457.6,39.9Z" fill="#bebef8"/>
<path d="M548.9,35.5C549.8,34.3 552.7,33.4 553.8,34.2C554.9,34.9 555.9,38.2 555.6,39.9C555.3,41.5 552.9,43.8 551.7,44.0C550.5,44.3 548.8,42.8 548.3,41.4C547.9,40.0 548.0,36.7 548.9,35.5Z" fill="#bebef8"/>
<path d="M471.9,80.0C472.2,78.9 473.6,78.9 474.0,80.0C474.3,81.1 474.3,85.4 474.0,86.4C473.7,87.5 472.5,87.5 472.2,86.4C471.8,85.4 471.6,81.1 471.9,80.0Z" fill="#bebef8"/>
<path d="M552.7,58.0C552.7,58.2 552.6,58.5 552.5,58.7C552.4,58.9 552.2,59.0 552.0,59.0C551.8,59.0 551.6,58.9 551.4,58.7C551.3,58.5 551.2,58.2 551.2,58.0C551.2,57.7 551.3,57.4 551.4,57.3C551.6,57.1 551.8,57.0 552.0,57.0C552.2,57.0 552.4,57.1 552.5,57.3C552.6,57.4 552.7,57.7 552.7,58.0Z" fill="#bebef8"/>
<path d="M560.3,83.3C560.3,83.6 560.1,83.9 560.0,84.1C559.8,84.2 559.5,84.4 559.2,84.4C559.0,84.4 558.7,84.2 558.5,84.1C558.3,83.9 558.2,83.6 558.2,83.3C558.2,83.1 558.3,82.8 558.5,82.6C558.7,82.4 559.0,82.3 559.2,82.3C559.5,82.3 559.8,82.4 560.0,82.6C560.1,82.8 560.3,83.1 560.3,83.3Z" fill="#bebef8"/>
</g>
</g>
<g clip-path="url(#cp10)">
<rect x="86.0" y="107.2" width="148.4" height="74.5" fill="#e6e8fc"/>
<g filter="url(#bl)">
<path d="M83.9,120.8C87.9,109.9 98.2,119.7 107.9,119.7C117.6,119.6 131.6,120.1 142.3,120.3C153.0,120.6 167.1,110.5 172.1,121.3C177.0,132.1 186.8,174.6 172.1,185.2C157.4,195.9 98.6,196.0 83.9,185.2C69.2,174.5 79.8,131.7 83.9,120.8Z" fill="#fde9e5"/>
<path d="M83.9,141.5C86.3,134.5 93.6,143.3 98.7,143.3C103.9,143.4 111.3,141.3 114.8,142.0C118.2,142.6 118.6,140.0 119.4,147.3C120.1,154.5 125.3,178.9 119.4,185.2C113.4,191.5 89.8,192.5 83.9,185.2C77.9,177.9 81.4,148.5 83.9,141.5Z" fill="#e6e8fc"/>
<path d="M86.1,160.4C89.8,159.1 102.9,159.0 107.9,159.5C112.9,159.9 115.9,162.1 115.9,163.4C115.9,164.7 112.9,166.7 107.9,167.3C102.9,167.8 89.8,168.0 86.1,166.8C82.5,165.7 82.5,161.6 86.1,160.4Z" fill="#fde9e5"/>
<path d="M119.4,141.0C122.1,138.9 126.9,138.9 130.8,139.9C134.7,140.9 139.4,144.3 142.7,147.3C146.1,150.2 149.6,153.1 150.8,157.6C151.9,162.1 151.7,170.6 149.6,174.2C147.5,177.7 142.8,178.0 138.2,178.8C133.5,179.5 125.4,180.4 121.7,178.8C117.9,177.2 116.7,173.4 115.5,169.1C114.2,164.8 113.7,157.7 114.3,153.0C115.0,148.3 116.6,143.2 119.4,141.0Z" fill="#e6e8fc"/>
<path d="M94.2,133.5C95.8,131.9 99.5,130.9 103.3,130.0C107.1,129.1 112.9,128.7 117.1,128.2C121.3,127.6 125.1,126.5 128.5,126.8C132.0,127.1 135.0,129.7 137.7,130.0C140.4,130.3 141.9,129.0 144.6,128.9C147.2,128.7 150.7,128.7 153.7,128.9C156.8,129.0 159.8,129.5 162.9,129.5C166.0,129.5 170.5,123.5 172.1,128.9C173.6,134.2 174.0,156.4 172.1,161.8C170.2,167.1 163.7,161.4 160.6,160.8C157.6,160.2 155.1,159.8 153.7,158.1C152.4,156.4 152.2,153.0 152.4,150.7C152.5,148.4 155.0,146.1 154.4,144.3C153.9,142.4 150.9,140.1 149.2,139.7C147.4,139.2 145.0,140.4 143.7,141.5C142.3,142.7 142.2,146.2 141.1,146.6C140.1,147.0 139.0,145.1 137.2,143.8C135.5,142.5 133.8,139.6 130.8,138.5C127.8,137.4 123.2,137.2 119.4,137.4C115.5,137.6 111.3,138.9 107.9,139.7C104.5,140.4 101.1,142.0 98.7,142.0C96.4,141.9 94.5,140.6 93.7,139.2C92.9,137.8 92.6,135.0 94.2,133.5Z" fill="#fcbebe"/>
<path d="M126.2,144.5C127.8,143.7 129.1,145.8 130.8,147.3C132.5,148.7 134.5,151.0 136.5,153.0C138.6,155.0 142.2,157.1 143.0,159.5C143.8,161.8 142.6,165.3 141.4,167.3C140.1,169.3 137.7,170.6 135.4,171.4C133.1,172.3 129.9,172.3 127.4,172.3C124.9,172.4 121.8,173.3 120.5,171.6C119.2,170.0 119.4,165.5 119.6,162.2C119.8,158.9 120.6,154.8 121.7,151.9C122.8,148.9 124.7,145.3 126.2,144.5Z" fill="#bebef8"/>
<path d="M147.3,162.2C148.6,158.0 151.7,159.5 153.7,159.9C155.8,160.3 158.4,160.3 159.7,164.5C161.0,168.7 163.8,181.8 161.5,185.2C159.2,188.7 148.3,189.0 145.9,185.2C143.6,181.4 146.0,166.4 147.3,162.2Z" fill="#fcbebe"/>
<path d="M150.8,167.7C151.4,165.9 153.8,165.4 154.9,166.4C156.0,167.3 157.4,171.6 157.4,173.7C157.4,175.8 156.2,178.4 155.1,179.0C154.0,179.6 151.7,179.3 151.0,177.4C150.3,175.5 150.1,169.6 150.8,167.7Z" fill="#fa9696"/>
<path d="M171.8,120.0C174.2,117.4 182.2,118.3 186.1,118.7C189.9,119.1 193.3,119.8 195.1,122.6C196.9,125.4 197.2,132.4 196.9,135.6C196.7,138.9 195.2,141.4 193.8,142.1C192.5,142.9 190.4,141.4 188.7,140.3C186.9,139.2 186.3,136.6 183.5,135.6C180.7,134.6 173.8,136.9 171.8,134.3C169.9,131.7 169.4,122.6 171.8,120.0Z" fill="#fde9e5"/>
<path d="M214.6,153.9C217.6,151.0 226.7,152.6 230.1,152.6C233.6,152.6 234.4,148.6 235.3,153.9C236.2,159.1 238.8,178.8 235.3,183.8C231.8,188.8 218.5,186.2 214.6,183.8C210.7,181.4 212.0,174.5 212.0,169.5C212.0,164.5 211.5,156.7 214.6,153.9Z" fill="#fde9e5"/>
<path d="M224.9,116.1C226.4,115.0 233.6,114.8 235.3,116.1C237.0,117.4 236.8,122.8 235.3,123.9C233.8,125.0 228.0,123.9 226.2,122.6C224.5,121.3 223.4,117.2 224.9,116.1Z" fill="#fde9e5"/>
<path d="M218.5,170.3C220.1,167.8 224.2,167.8 226.2,168.9C228.3,170.1 229.8,174.8 230.6,177.3C231.5,179.8 233.7,182.7 231.4,183.8C229.1,184.9 218.8,186.0 216.6,183.8C214.5,181.5 216.9,172.7 218.5,170.3Z" fill="#fcbebe"/>
<path d="M220.3,175.2C221.1,173.6 223.4,172.7 224.4,174.2C225.4,175.6 227.1,182.2 226.2,183.8C225.4,185.4 220.2,185.2 219.2,183.8C218.2,182.4 219.4,176.8 220.3,175.2Z" fill="#fa9696"/>
<path d="M201.6,130.4C203.3,128.9 208.4,127.8 212.0,127.8C215.5,127.8 220.8,129.3 222.9,130.4C224.9,131.5 225.1,133.0 224.2,134.3C223.2,135.6 219.8,137.3 217.2,138.2C214.5,139.2 210.7,140.3 208.1,140.1C205.5,139.8 202.7,138.5 201.6,136.9C200.5,135.3 199.9,131.9 201.6,130.4Z" fill="#bebef8"/>
<path d="M205.0,131.7C205.8,130.3 210.5,129.1 212.0,129.9C213.4,130.7 214.7,135.0 213.8,136.4C212.9,137.8 208.3,139.3 206.8,138.5C205.3,137.7 204.1,133.2 205.0,131.7Z" fill="#9494f2"/>
<path d="M208.1,132.5C208.6,131.7 211.1,131.8 211.7,132.5C212.3,133.2 212.2,135.8 211.7,136.7C211.2,137.5 209.2,138.1 208.6,137.5C208.0,136.8 207.6,133.3 208.1,132.5Z" fill="#6868ec"/>
<path d="M201.6,153.9C202.7,152.4 207.4,151.6 209.4,152.0C211.4,152.5 213.5,155.0 213.5,156.5C213.5,157.9 211.2,159.9 209.4,160.6C207.6,161.3 204.2,161.7 202.9,160.6C201.6,159.5 200.5,155.3 201.6,153.9Z" fill="#bebef8"/>
<path d="M171.8,163.0C173.4,159.0 178.0,159.8 180.9,159.8C183.8,159.8 187.4,160.9 189.2,163.0C191.0,165.0 191.8,168.6 191.8,172.1C191.8,175.5 192.6,181.8 189.2,183.8C185.7,185.7 173.9,187.3 171.0,183.8C168.1,180.3 170.2,167.0 171.8,163.0Z" fill="#bebef8"/>
<path d="M173.9,165.6C175.0,162.2 178.8,163.3 180.9,163.7C183.0,164.2 185.6,165.4 186.6,168.2C187.5,170.9 188.7,177.8 186.6,180.4C184.5,183.0 176.0,186.3 173.9,183.8C171.8,181.3 172.7,168.9 173.9,165.6Z" fill="#9494f2"/>
<path d="M176.7,168.2C177.7,167.0 181.2,166.1 182.4,167.6C183.6,169.2 184.6,175.1 184.0,177.3C183.4,179.4 180.1,181.1 178.8,180.7C177.6,180.2 176.8,176.8 176.5,174.7C176.1,172.6 175.7,169.3 176.7,168.2Z" fill="#6868ec"/>
<path d="M220.8,148.6C220.8,148.8 220.7,149.1 220.5,149.2C220.3,149.3 220.0,149.4 219.7,149.4C219.5,149.4 219.2,149.3 219.0,149.2C218.8,149.1 218.7,148.8 218.7,148.6C218.7,148.5 218.8,148.2 219.0,148.1C219.2,148.0 219.5,147.9 219.7,147.9C220.0,147.9 220.3,148.0 220.5,148.1C220.7,148.2 220.8,148.5 220.8,148.6Z" fill="#bebef8"/>
</g>
</g>
<g clip-path="url(#cp11)">
<rect x="252.1" y="107.5" width="149.1" height="73.8" fill="#e6e8fc"/>
<g filter="url(#bl)">
<path d="M249.7,122.6C252.5,120.2 263.3,119.1 266.5,121.3C269.8,123.5 270.9,133.0 269.1,135.6C267.4,138.2 259.4,136.9 256.2,136.9C252.9,136.9 250.8,138.0 249.7,135.6C248.6,133.2 246.9,125.0 249.7,122.6Z" fill="#fde9e5"/>
<path d="M276.9,121.3C280.8,119.4 298.3,118.1 302.8,120.0C307.4,122.0 306.3,130.6 304.1,133.0C302.0,135.4 294.0,134.5 289.9,134.3C285.8,134.1 281.7,133.9 279.5,131.7C277.3,129.6 273.0,123.3 276.9,121.3Z" fill="#fde9e5"/>
<path d="M326.1,117.4C327.9,110.5 334.4,115.2 336.5,117.4C338.7,119.6 336.9,127.4 339.1,130.4C341.3,133.5 347.5,126.7 349.5,135.6C351.4,144.5 353.4,175.8 350.8,183.8C348.2,191.8 338.0,187.9 333.9,183.8C329.8,179.7 327.4,170.1 326.1,159.1C324.9,148.0 324.4,124.4 326.1,117.4Z" fill="#fde9e5"/>
<path d="M356.1,118.0C359.8,106.6 370.8,116.8 378.0,116.7C385.1,116.5 395.3,105.9 399.1,117.4C402.9,128.8 408.1,173.9 400.9,185.2C393.8,196.5 363.6,196.4 356.1,185.2C348.7,174.0 352.5,129.5 356.1,118.0Z" fill="#fde9e5"/>
<path d="M371.5,144.3C372.3,137.0 374.4,141.7 375.7,141.5C377.0,141.4 378.6,136.1 379.3,143.3C380.0,150.6 381.2,178.2 379.8,185.2C378.4,192.2 372.4,192.0 371.1,185.2C369.7,178.4 370.8,151.6 371.5,144.3Z" fill="#e6e8fc"/>
<path d="M389.4,148.9C390.2,142.5 391.8,147.3 392.9,147.3C393.9,147.3 395.1,142.5 395.6,148.9C396.1,155.2 397.1,179.2 395.9,185.2C394.7,191.3 389.6,191.3 388.5,185.2C387.4,179.2 388.7,155.2 389.4,148.9Z" fill="#e6e8fc"/>
<path d="M273.0,134.3C273.8,132.1 276.5,131.9 278.2,132.5C279.9,133.2 282.7,133.8 283.4,138.2C284.1,142.7 282.6,153.0 282.6,159.1C282.7,165.1 283.7,170.6 283.7,174.7C283.6,178.8 284.2,182.3 282.4,183.8C280.5,185.3 274.5,187.9 272.8,183.8C271.0,179.7 271.8,165.3 272.0,159.1C272.2,152.8 273.6,150.2 273.8,146.0C274.0,141.9 272.3,136.6 273.0,134.3Z" fill="#bebef8"/>
<path d="M275.6,140.3C276.4,137.1 279.1,136.4 280.0,139.5C280.9,142.7 281.0,153.1 281.1,159.1C281.1,165.0 281.3,172.5 280.5,175.2C279.8,177.9 277.3,177.9 276.4,175.2C275.5,172.5 275.5,164.9 275.4,159.1C275.2,153.2 274.8,143.6 275.6,140.3Z" fill="#9494f2"/>
<path d="M276.9,157.8C277.3,156.2 279.2,156.2 279.8,157.8C280.3,159.4 280.5,165.8 280.0,167.4C279.6,169.0 277.7,169.0 277.2,167.4C276.7,165.8 276.5,159.4 276.9,157.8Z" fill="#6868ec"/>
<path d="M287.3,159.1C288.1,156.6 291.1,156.9 293.0,157.2C294.8,157.5 297.2,161.4 298.4,160.9C299.6,160.3 299.2,155.3 300.2,153.9C301.2,152.4 303.3,151.8 304.4,152.0C305.5,152.2 307.2,153.0 307.0,155.2C306.8,157.3 304.2,161.5 303.1,164.8C302.0,168.0 301.1,171.5 300.5,174.7C299.8,177.8 301.1,182.3 299.2,183.8C297.3,185.3 291.2,185.7 289.4,183.8C287.5,181.8 288.4,176.2 288.1,172.1C287.7,168.0 286.5,161.5 287.3,159.1Z" fill="#bebef8"/>
<path d="M291.4,164.8C292.2,161.6 295.5,162.5 296.6,163.7C297.7,165.0 298.1,168.9 298.2,172.1C298.2,175.3 298.2,181.2 297.1,183.0C296.1,184.8 292.9,186.0 291.9,183.0C291.0,180.0 290.6,168.0 291.4,164.8Z" fill="#9494f2"/>
<path d="M311.1,133.0C312.0,129.8 316.0,129.4 318.4,129.4C320.7,129.4 324.0,130.3 325.1,133.0C326.2,135.8 325.5,141.7 325.1,146.0C324.7,150.4 323.1,154.3 322.5,159.1C322.0,163.8 322.2,170.6 321.7,174.7C321.3,178.8 321.6,182.3 319.9,183.8C318.2,185.3 313.2,187.0 311.6,183.8C310.0,180.5 310.1,170.1 310.3,164.3C310.6,158.4 313.1,153.9 313.2,148.6C313.3,143.4 310.3,136.2 311.1,133.0Z" fill="#bebef8"/>
<path d="M314.2,133.0C315.4,128.4 319.4,129.9 321.0,131.2C322.6,132.5 323.9,137.3 323.8,140.8C323.8,144.4 321.6,147.8 320.7,152.6C319.8,157.3 319.2,164.8 318.6,169.5C318.1,174.1 318.2,178.6 317.3,180.4C316.5,182.2 314.0,184.0 313.5,180.4C312.9,176.8 314.1,167.0 314.2,159.1C314.4,151.2 313.1,137.7 314.2,133.0Z" fill="#9494f2"/>
<path d="M315.5,133.8C316.5,132.2 320.1,132.6 321.2,133.8C322.4,135.0 322.9,138.7 322.5,140.8C322.2,143.0 320.3,146.1 319.2,146.6C318.0,147.0 316.1,145.6 315.5,143.4C314.9,141.3 314.6,135.4 315.5,133.8Z" fill="#6868ec"/>
<path d="M316.8,136.4C317.3,135.3 319.5,135.2 320.2,136.2C320.8,137.1 321.2,141.1 320.7,142.1C320.2,143.2 318.0,143.6 317.3,142.7C316.7,141.7 316.3,137.5 316.8,136.4Z" fill="#3c3ce8"/>
<path d="M327.2,130.4C328.4,128.4 331.3,127.7 332.9,128.6C334.5,129.5 335.2,133.2 336.8,135.6C338.3,138.1 341.1,139.5 342.2,143.4C343.3,147.3 343.7,154.3 343.5,159.1C343.3,163.8 342.0,168.0 340.9,172.1C339.8,176.2 339.5,181.8 337.0,183.8C334.5,185.7 327.5,187.9 325.9,183.8C324.2,179.7 327.2,166.2 327.2,159.1C327.2,151.9 325.9,145.6 325.9,140.8C325.9,136.1 326.0,132.5 327.2,130.4Z" fill="#fcbebe"/>
<path d="M328.5,133.0C329.2,129.7 331.5,129.9 332.9,131.2C334.3,132.5 335.6,137.9 336.8,140.8C337.9,143.7 339.2,145.2 339.6,148.6C340.0,152.1 339.8,158.1 339.1,161.7C338.4,165.2 337.0,168.2 335.5,170.0C334.0,171.8 331.2,175.7 330.0,172.6C328.9,169.5 328.7,157.8 328.5,151.2C328.2,144.7 327.7,136.4 328.5,133.0Z" fill="#fa9696"/>
<path d="M331.8,137.7C332.5,135.2 334.7,135.5 336.0,136.4C337.3,137.4 339.1,141.2 339.9,143.4C340.6,145.7 340.9,148.0 340.4,149.9C339.9,151.9 338.4,154.9 337.0,155.2C335.7,155.4 333.2,154.2 332.4,151.2C331.5,148.3 331.2,140.2 331.8,137.7Z" fill="#fa6969"/>
<path d="M335.0,141.6C335.5,140.7 337.3,140.9 338.1,141.6C338.8,142.4 339.5,144.8 339.4,146.0C339.2,147.3 338.0,149.0 337.3,149.2C336.6,149.4 335.3,148.6 335.0,147.3C334.6,146.1 334.4,142.6 335.0,141.6Z" fill="#fa3c3c"/>
<path d="M300.0,142.1C300.5,141.1 302.5,141.1 303.1,142.1C303.6,143.2 303.8,147.6 303.3,148.6C302.9,149.7 300.8,149.7 300.2,148.6C299.7,147.6 299.5,143.2 300.0,142.1Z" fill="#fcbebe"/>
<path d="M348.2,149.9C349.5,146.8 352.9,145.5 354.7,145.5C356.4,145.5 358.3,146.4 358.8,149.9C359.3,153.5 358.6,161.2 357.5,166.9C356.4,172.5 354.3,181.0 352.3,183.8C350.3,186.6 346.3,187.0 345.3,183.8C344.4,180.5 346.1,169.9 346.6,164.3C347.1,158.6 346.8,153.1 348.2,149.9Z" fill="#bebef8"/>
<path d="M352.1,153.9C352.1,154.2 351.9,154.6 351.8,154.8C351.6,155.0 351.3,155.2 351.0,155.2C350.8,155.2 350.5,155.0 350.3,154.8C350.1,154.6 350.0,154.2 350.0,153.9C350.0,153.5 350.1,153.1 350.3,152.9C350.5,152.7 350.8,152.6 351.0,152.6C351.3,152.6 351.6,152.7 351.8,152.9C351.9,153.1 352.1,153.5 352.1,153.9Z" fill="#9494f2"/>
<path d="M365.0,133.0C365.8,130.6 369.1,129.9 370.2,131.2C371.3,132.5 371.8,137.8 371.8,140.8C371.7,143.8 371.0,148.3 369.9,149.2C368.9,150.0 366.1,148.7 365.3,146.0C364.5,143.4 364.2,135.5 365.0,133.0Z" fill="#bebef8"/>
<path d="M367.1,134.3C367.5,132.8 369.2,132.6 369.7,134.1C370.2,135.6 370.3,141.9 369.9,143.4C369.6,145.0 367.8,145.0 367.3,143.4C366.9,141.9 366.7,135.9 367.1,134.3Z" fill="#9494f2"/>
<path d="M359.3,138.2C360.0,137.6 362.8,137.9 363.5,138.8C364.1,139.6 363.9,142.8 363.2,143.4C362.5,144.1 360.0,143.5 359.3,142.7C358.7,141.8 358.6,138.9 359.3,138.2Z" fill="#fcbebe"/>
<path d="M362.4,140.8C362.4,141.1 362.3,141.5 362.1,141.8C361.9,142.0 361.6,142.1 361.4,142.1C361.1,142.1 360.8,142.0 360.7,141.8C360.5,141.5 360.4,141.1 360.4,140.8C360.4,140.5 360.5,140.1 360.7,139.9C360.8,139.7 361.1,139.5 361.4,139.5C361.6,139.5 361.9,139.7 362.1,139.9C362.3,140.1 362.4,140.5 362.4,140.8Z" fill="#fa9696"/>
<path d="M383.7,136.9C384.1,136.1 385.8,136.1 386.3,136.9C386.7,137.8 387.0,141.3 386.5,142.1C386.1,143.0 384.1,143.0 383.7,142.1C383.2,141.3 383.2,137.8 383.7,136.9Z" fill="#fcbebe"/>
<path d="M378.8,135.1C379.1,133.3 380.4,133.3 380.8,135.1C381.2,136.9 381.4,144.2 381.1,146.0C380.8,147.9 379.4,147.9 379.0,146.0C378.6,144.2 378.4,136.9 378.8,135.1Z" fill="#bebef8"/>
<path d="M382.9,173.4C383.3,171.6 384.6,171.6 385.0,173.4C385.4,175.1 385.6,182.1 385.2,183.8C384.8,185.5 383.0,185.5 382.6,183.8C382.2,182.1 382.5,175.1 382.9,173.4Z" fill="#fcbebe"/>
<path d="M264.0,177.8C264.0,178.3 263.9,178.9 263.7,179.3C263.6,179.6 263.4,179.9 263.2,179.9C263.0,179.9 262.8,179.6 262.6,179.3C262.5,178.9 262.4,178.3 262.4,177.8C262.4,177.3 262.5,176.7 262.6,176.3C262.8,176.0 263.0,175.7 263.2,175.7C263.4,175.7 263.6,176.0 263.7,176.3C263.9,176.7 264.0,177.3 264.0,177.8Z" fill="#bebef8"/>
<path d="M268.9,138.8C268.9,139.0 268.8,139.3 268.7,139.5C268.5,139.7 268.3,139.8 268.1,139.8C267.9,139.8 267.7,139.7 267.6,139.5C267.4,139.3 267.3,139.0 267.3,138.8C267.3,138.5 267.4,138.2 267.6,138.0C267.7,137.8 267.9,137.7 268.1,137.7C268.3,137.7 268.5,137.8 268.7,138.0C268.8,138.2 268.9,138.5 268.9,138.8Z" fill="#fcbebe"/>
</g>
</g>
<g clip-path="url(#cp12)">
<rect x="419.0" y="106.8" width="149.1" height="74.1" fill="#e6e8fc"/>
<g filter="url(#bl)">
<path d="M421.4,119.7C423.2,108.3 427.4,117.4 431.8,117.4C436.2,117.4 442.5,118.8 447.8,119.7C453.2,120.5 459.7,122.5 463.9,122.6C468.1,122.8 467.7,120.6 473.0,120.3C478.4,120.0 492.2,110.0 496.0,120.8C499.8,131.6 508.4,174.5 496.0,185.2C483.6,196.0 433.9,196.1 421.4,185.2C409.0,174.3 419.7,131.0 421.4,119.7Z" fill="#fde9e5"/>
<path d="M463.9,124.9C465.0,123.8 472.1,123.8 475.3,124.3C478.6,124.7 482.6,126.4 483.4,127.7C484.1,129.0 482.4,131.7 479.9,132.3C477.4,132.9 471.1,132.4 468.5,131.2C465.8,129.9 462.7,126.1 463.9,124.9Z" fill="#e6e8fc"/>
<path d="M416.9,132.3C417.8,123.5 421.4,128.9 422.6,132.3C423.7,135.8 423.9,144.2 423.7,153.0C423.5,161.8 422.6,179.8 421.4,185.2C420.3,190.6 417.6,194.0 416.9,185.2C416.1,176.4 415.9,141.1 416.9,132.3Z" fill="#e6e8fc"/>
<path d="M490.9,120.8C493.0,110.5 501.4,112.4 503.5,123.1C505.6,133.8 505.6,174.9 503.5,185.2C501.4,195.6 493.0,196.0 490.9,185.2C488.8,174.5 488.8,131.2 490.9,120.8Z" fill="#fde9e5"/>
<path d="M503.5,124.3C506.9,114.3 520.3,115.2 524.1,125.4C527.9,135.6 529.8,175.2 526.4,185.2C523.0,195.2 507.3,195.4 503.5,185.2C499.6,175.1 500.0,134.2 503.5,124.3Z" fill="#e6e8fc"/>
<path d="M521.8,126.6C523.7,116.6 531.0,126.9 533.3,125.4C535.6,123.9 532.5,119.1 535.6,117.4C538.6,115.6 545.9,115.2 551.6,115.1C557.4,114.9 566.9,104.5 570.0,116.2C573.0,127.9 578.0,173.7 570.0,185.2C562.0,196.7 529.8,195.0 521.8,185.2C513.8,175.4 519.9,136.5 521.8,126.6Z" fill="#fde9e5"/>
<path d="M439.8,161.1C440.3,159.0 442.1,158.6 442.8,159.9C443.5,161.3 444.0,166.7 443.9,169.1C443.8,171.5 443.0,173.6 442.3,174.2C441.6,174.7 440.0,174.7 439.6,172.6C439.1,170.4 439.3,163.2 439.8,161.1Z" fill="#fcbebe"/>
<path d="M465.0,169.1C465.9,166.2 468.0,166.4 468.9,167.5C469.8,168.7 470.5,173.1 470.5,176.0C470.5,179.0 470.0,183.7 468.9,185.2C467.8,186.7 464.5,187.9 463.9,185.2C463.2,182.5 464.2,172.1 465.0,169.1Z" fill="#fcbebe"/>
<path d="M489.6,170.3C490.8,167.4 494.9,165.5 496.0,168.0C497.1,170.5 497.2,182.3 496.0,185.2C494.8,188.1 489.7,187.7 488.6,185.2C487.6,182.7 488.3,173.1 489.6,170.3Z" fill="#fcbebe"/>
<path d="M493.8,136.9C494.6,134.0 496.8,133.1 497.7,135.8C498.7,138.4 499.2,146.3 499.3,153.0C499.5,159.7 499.3,172.2 498.4,176.0C497.6,179.8 495.2,179.8 494.3,176.0C493.4,172.2 493.2,159.5 493.1,153.0C493.1,146.5 493.1,139.8 493.8,136.9Z" fill="#fcbebe"/>
<path d="M447.4,130.0C448.4,128.2 450.8,127.7 452.4,128.4C454.0,129.1 455.8,132.0 457.0,134.1C458.2,136.3 458.4,140.7 459.5,141.5C460.7,142.3 461.6,139.0 463.9,138.7C466.1,138.5 470.1,138.9 473.0,139.9C476.0,140.9 479.3,142.9 481.3,144.5C483.3,146.1 484.6,147.5 485.0,149.6C485.4,151.6 484.8,155.5 483.6,156.9C482.4,158.3 479.6,158.1 477.6,158.1C475.7,158.0 473.7,157.1 471.9,156.7C470.1,156.3 467.9,154.6 466.6,155.5C465.3,156.5 465.1,159.9 464.1,162.2C463.1,164.5 461.8,166.8 460.7,169.1C459.6,171.4 458.3,173.3 457.4,176.0C456.6,178.7 457.1,183.7 455.4,185.2C453.7,186.7 448.4,187.5 447.4,185.2C446.3,182.9 449.1,176.8 449.0,171.4C448.8,166.0 446.9,158.4 446.4,153.0C446.0,147.6 446.1,143.0 446.2,139.2C446.4,135.4 446.3,131.8 447.4,130.0Z" fill="#bebef8"/>
<path d="M449.4,133.5C449.9,131.2 451.8,131.3 452.9,132.3C454.0,133.3 455.2,136.5 456.1,139.2C457.0,141.9 457.8,145.3 458.4,148.4C458.9,151.5 459.4,154.5 459.5,157.6C459.7,160.8 459.9,165.5 459.3,167.3C458.6,169.0 456.6,169.8 455.6,168.2C454.6,166.6 454.3,161.3 453.3,157.6C452.4,153.9 450.5,150.1 449.9,146.1C449.2,142.1 448.9,135.8 449.4,133.5Z" fill="#9494f2"/>
<path d="M471.4,149.6C473.0,148.5 478.1,147.6 479.9,147.9C481.8,148.3 483.2,150.6 482.7,151.9C482.1,153.1 478.7,155.2 476.7,155.5C474.7,155.9 471.4,155.2 470.5,154.2C469.6,153.2 469.9,150.6 471.4,149.6Z" fill="#9494f2"/>
<path d="M449.9,136.4C450.1,134.9 452.3,134.7 453.1,136.0C453.9,137.3 454.7,142.7 454.5,144.3C454.2,145.8 452.3,146.7 451.5,145.4C450.7,144.1 449.6,138.0 449.9,136.4Z" fill="#6868ec"/>
<path d="M449.9,172.1C450.4,169.9 452.3,169.9 452.9,172.1C453.4,174.3 453.6,183.0 453.1,185.2C452.6,187.4 450.4,187.4 449.9,185.2C449.3,183.0 449.4,174.3 449.9,172.1Z" fill="#9494f2"/>
<path d="M508.1,132.3C509.0,129.5 512.0,129.2 513.8,129.5C515.5,129.9 517.4,131.8 518.6,134.6C519.8,137.4 520.9,142.6 520.9,146.1C520.9,149.6 519.4,153.1 518.6,155.8C517.8,158.5 516.5,158.8 516.3,162.2C516.1,165.6 517.6,172.2 517.5,176.0C517.3,179.8 516.8,183.7 515.2,185.2C513.6,186.7 508.8,187.5 507.8,185.2C506.8,182.9 508.8,176.0 509.2,171.4C509.6,166.8 510.6,161.8 510.3,157.6C510.1,153.4 508.2,150.3 507.8,146.1C507.4,141.9 507.1,135.1 508.1,132.3Z" fill="#bebef8"/>
<path d="M510.8,134.6C511.4,132.4 513.6,131.5 514.9,133.0C516.2,134.5 518.3,140.4 518.6,143.8C518.9,147.2 517.9,151.7 517.0,153.5C516.1,155.3 514.1,155.8 513.1,154.6C512.1,153.4 511.6,149.4 511.3,146.1C510.9,142.8 510.2,136.8 510.8,134.6Z" fill="#9494f2"/>
<path d="M512.4,138.7C512.8,137.2 514.4,137.2 514.9,138.7C515.4,140.3 515.7,146.4 515.4,147.9C515.1,149.5 513.4,149.5 512.9,147.9C512.4,146.4 512.1,140.3 512.4,138.7Z" fill="#6868ec"/>
<path d="M510.3,166.8C511.0,164.7 514.1,164.4 514.9,166.4C515.7,168.3 515.9,176.7 515.2,178.8C514.5,180.8 511.6,180.8 510.8,178.8C510.0,176.8 509.7,168.9 510.3,166.8Z" fill="#9494f2"/>
<path d="M525.9,128.2C527.5,125.8 530.1,127.2 533.3,127.2C536.4,127.2 540.5,127.7 544.8,128.2C549.0,128.6 554.3,129.9 558.5,130.0C562.7,130.1 568.1,119.7 570.0,128.9C571.9,138.1 577.2,175.8 570.0,185.2C562.7,194.6 533.9,188.7 526.4,185.2C518.9,181.8 525.6,171.8 525.3,164.5C524.9,157.2 524.0,147.6 524.1,141.5C524.2,135.4 524.4,130.5 525.9,128.2Z" fill="#fcbebe"/>
<path d="M532.8,130.5C535.4,129.9 542.8,130.9 547.0,131.4C551.3,131.8 554.7,133.1 558.5,133.2C562.3,133.3 568.1,128.3 570.0,131.8C571.9,135.4 571.5,150.9 570.0,154.4C568.5,157.9 563.9,153.0 560.8,153.0C557.7,153.0 554.1,153.6 551.6,154.2C549.1,154.7 547.2,154.4 545.9,156.5C544.6,158.6 543.8,163.6 543.6,166.8C543.4,170.1 544.9,172.9 544.8,176.0C544.6,179.1 546.0,183.7 542.9,185.2C539.9,186.7 529.2,188.7 526.4,185.2C523.6,181.8 525.5,171.4 525.9,164.5C526.4,157.6 528.2,148.8 529.2,143.8C530.1,138.8 530.8,136.8 531.4,134.6C532.1,132.4 530.2,131.0 532.8,130.5Z" fill="#fa9696"/>
<path d="M547.0,154.6C549.7,152.4 558.1,152.1 560.8,154.2C563.6,156.2 563.9,163.4 563.6,166.8C563.3,170.2 561.5,173.2 559.0,174.6C556.4,176.1 550.8,176.6 548.4,175.3C546.1,174.1 545.0,170.7 544.8,167.3C544.5,163.8 544.4,156.8 547.0,154.6Z" fill="#fcbebe"/>
<path d="M534.2,136.4C535.2,134.5 538.8,134.1 540.2,135.3C541.5,136.5 542.4,141.5 542.2,143.8C542.0,146.1 540.3,148.8 539.0,149.3C537.7,149.9 535.2,149.2 534.4,147.0C533.6,144.9 533.2,138.4 534.2,136.4Z" fill="#fa6969"/>
<path d="M549.3,141.5C550.8,140.1 555.1,140.0 558.5,139.4C562.0,138.9 568.1,136.8 570.0,138.3C571.9,139.8 571.9,146.8 570.0,148.6C568.1,150.4 561.9,149.2 558.5,149.1C555.1,149.0 551.1,149.2 549.6,147.9C548.0,146.7 547.8,142.9 549.3,141.5Z" fill="#fa6969"/>
<path d="M526.4,168.2C527.7,165.1 532.0,165.5 533.5,166.8C535.0,168.1 535.3,172.9 535.3,176.0C535.4,179.1 535.6,183.7 534.0,185.2C532.4,186.7 527.0,188.1 525.7,185.2C524.5,182.4 525.1,171.3 526.4,168.2Z" fill="#fa6969"/>
<path d="M527.8,172.3C528.4,171.0 530.8,170.6 531.4,171.9C532.1,173.1 532.5,178.3 531.9,179.7C531.3,181.1 528.7,181.4 528.0,180.2C527.3,178.9 527.2,173.7 527.8,172.3Z" fill="#fa3c3c"/>
</g>
</g>
<g clip-path="url(#cp20)">
<rect x="86.0" y="200.6" width="148.5" height="74.2" fill="#e6e8fc"/>
<g filter="url(#bl)">
<path d="M83.7,211.7C89.1,200.7 105.1,210.2 116.1,210.4C127.1,210.6 141.2,212.8 149.8,213.0C158.3,213.2 164.4,208.7 167.4,211.7C170.4,214.7 167.8,224.5 167.9,231.2C168.0,238.0 168.0,244.5 167.9,252.1C167.8,259.7 174.7,272.7 167.4,276.8C160.1,280.9 137.8,276.8 123.9,276.8C109.9,276.8 90.4,287.6 83.7,276.8C77.0,265.9 78.3,222.8 83.7,211.7Z" fill="#fde9e5"/>
<path d="M89.6,214.3C91.8,213.0 98.7,213.1 103.3,213.3C107.9,213.6 115.2,214.2 117.1,215.6C119.0,217.1 117.8,220.7 114.8,221.9C111.7,223.0 102.9,222.7 98.7,222.5C94.6,222.4 91.6,222.5 90.0,221.2C88.5,219.8 87.4,215.6 89.6,214.3Z" fill="#e6e8fc"/>
<path d="M103.8,239.6C105.1,236.9 109.5,237.5 112.5,238.0C115.5,238.5 120.2,239.9 121.7,242.6C123.1,245.2 122.7,251.6 121.2,254.1C119.7,256.5 115.3,257.1 112.5,257.1C109.7,257.1 105.9,257.0 104.5,254.1C103.0,251.1 102.5,242.3 103.8,239.6Z" fill="#e6e8fc"/>
<path d="M130.8,244.2C132.3,240.6 135.1,239.6 138.2,238.0C141.2,236.3 145.0,235.5 149.2,234.5C153.3,233.5 159.1,232.2 162.9,231.7C166.7,231.3 170.5,224.0 172.1,231.7C173.6,239.5 180.2,270.5 172.1,278.2C164.0,286.0 131.1,279.7 123.5,278.2C115.9,276.7 125.2,272.2 126.2,269.0C127.2,265.9 128.7,263.5 129.4,259.4C130.2,255.2 129.4,247.7 130.8,244.2Z" fill="#e6e8fc"/>
<path d="M83.9,238.6C85.2,235.2 89.7,238.3 91.9,239.6C94.0,240.8 96.0,243.4 96.9,246.0C97.9,248.6 98.3,252.8 97.6,255.2C97.0,257.6 95.3,259.4 93.0,260.3C90.7,261.1 85.4,263.9 83.9,260.3C82.3,256.7 82.5,242.1 83.9,238.6Z" fill="#fcbebe"/>
<path d="M89.6,266.3C91.1,265.3 95.3,264.6 98.7,264.4C102.2,264.2 107.5,264.4 110.2,264.9C112.9,265.3 114.8,266.2 114.8,267.2C114.8,268.2 113.3,270.1 110.2,270.9C107.1,271.6 99.9,271.9 96.5,271.8C93.0,271.7 90.7,271.3 89.6,270.4C88.4,269.5 88.1,267.2 89.6,266.3Z" fill="#fcbebe"/>
<path d="M171.8,212.5C174.6,211.4 183.9,211.4 188.7,211.7C193.4,212.0 198.6,213.0 200.3,214.3C202.0,215.6 201.8,218.7 199.0,219.5C196.2,220.4 188.0,219.7 183.5,219.5C178.9,219.3 173.8,219.4 171.8,218.2C169.9,217.0 169.0,213.6 171.8,212.5Z" fill="#fde9e5"/>
<path d="M188.1,250.8C190.2,246.3 196.4,245.6 199.0,250.0C201.6,254.3 205.8,272.3 203.7,276.8C201.6,281.3 189.2,281.1 186.6,276.8C184.0,272.4 186.1,255.2 188.1,250.8Z" fill="#fde9e5"/>
<path d="M214.6,262.5C218.5,259.2 231.8,254.9 235.3,257.3C238.8,259.7 239.2,273.5 235.3,276.8C231.4,280.0 215.4,279.2 212.0,276.8C208.5,274.4 210.7,265.7 214.6,262.5Z" fill="#fde9e5"/>
<path d="M118.2,226.0C119.3,223.9 122.5,223.6 126.5,222.6C130.4,221.7 137.2,220.5 142.0,220.3C146.8,220.1 153.0,220.6 155.5,221.6C157.9,222.6 158.2,224.4 156.8,226.0C155.4,227.6 150.5,229.7 147.2,231.2C143.9,232.8 140.3,234.1 136.8,235.4C133.4,236.7 129.4,239.3 126.5,239.3C123.6,239.3 120.8,237.6 119.5,235.4C118.1,233.2 117.0,228.2 118.2,226.0Z" fill="#fcbebe"/>
<path d="M123.4,226.0C124.2,224.5 128.9,223.5 131.6,223.4C134.4,223.3 139.0,224.3 139.9,225.5C140.9,226.7 139.6,229.5 137.3,230.7C135.1,231.9 128.8,233.6 126.5,232.8C124.1,232.0 122.5,227.6 123.4,226.0Z" fill="#fa9696"/>
<path d="M195.9,226.0C197.3,223.6 203.2,221.3 206.8,220.8C210.4,220.3 214.6,221.6 217.7,222.9C220.8,224.2 223.3,225.9 225.4,228.6C227.6,231.3 229.6,235.1 230.6,239.0C231.7,242.9 232.6,249.2 231.9,252.1C231.3,255.0 228.8,256.0 226.7,256.5C224.7,257.0 222.2,256.3 219.7,255.2C217.3,254.1 214.4,252.6 212.0,250.0C209.6,247.4 207.5,242.0 205.2,239.6C203.0,237.2 200.1,237.9 198.5,235.7C196.9,233.4 194.5,228.5 195.9,226.0Z" fill="#bebef8"/>
<path d="M206.3,226.0C207.7,225.2 212.9,224.1 215.9,225.0C218.8,225.9 221.8,228.5 223.9,231.2C226.0,234.0 228.0,238.1 228.6,241.6C229.2,245.2 229.0,250.5 227.5,252.6C226.1,254.6 222.1,255.0 219.7,253.9C217.4,252.8 215.0,248.9 213.3,246.1C211.5,243.3 210.3,239.7 209.4,237.0C208.4,234.3 208.1,231.8 207.6,229.9C207.1,228.1 204.9,226.9 206.3,226.0Z" fill="#9494f2"/>
<path d="M212.0,229.9C212.8,228.5 217.3,227.5 219.7,228.6C222.2,229.7 225.2,233.3 226.5,236.4C227.8,239.6 228.2,244.9 227.5,247.4C226.8,249.8 224.1,251.7 222.3,251.3C220.6,250.8 218.5,247.2 217.2,244.8C215.9,242.4 215.4,239.4 214.6,237.0C213.7,234.5 211.1,231.3 212.0,229.9Z" fill="#6868ec"/>
<path d="M215.9,233.3C216.5,231.8 219.7,231.8 221.3,232.8C222.9,233.8 224.8,236.7 225.4,239.0C226.1,241.4 226.2,245.4 225.4,246.9C224.7,248.3 222.3,248.4 221.0,247.6C219.7,246.9 218.5,244.6 217.7,242.2C216.8,239.8 215.3,234.9 215.9,233.3Z" fill="#3c3ce8"/>
<path d="M218.2,235.9C218.6,234.4 221.6,234.7 222.6,235.9C223.6,237.1 224.6,241.5 224.2,242.9C223.7,244.4 221.0,245.9 220.0,244.8C219.0,243.6 217.8,237.4 218.2,235.9Z" fill="#1414e6"/>
<path d="M178.3,242.9C179.2,241.7 183.9,241.2 186.6,241.1C189.3,241.1 193.7,241.7 194.4,242.7C195.0,243.7 192.5,246.2 190.2,247.1C188.0,248.1 182.9,249.1 180.9,248.4C178.9,247.7 177.3,244.2 178.3,242.9Z" fill="#bebef8"/>
<path d="M157.6,275.6C156.4,274.0 157.9,268.6 159.6,266.0C161.4,263.3 165.4,261.5 167.9,259.8C170.4,258.0 172.9,257.4 174.8,255.6C176.7,253.9 178.2,251.0 179.2,249.4C180.2,247.9 179.9,246.7 180.6,246.4C181.2,246.0 182.8,246.1 183.1,247.3C183.4,248.5 182.2,251.6 182.4,253.6C182.5,255.5 184.0,257.2 183.9,259.1C183.8,260.9 183.3,263.0 182.0,264.6C180.6,266.2 177.7,267.3 175.9,268.5C174.1,269.7 172.5,270.6 170.9,271.8C169.4,273.0 168.8,275.0 166.5,275.6C164.3,276.3 158.7,277.2 157.6,275.6Z" fill="#bebef8"/>
<path d="M163.8,265.3C164.5,263.9 167.6,263.1 169.3,263.2C171.0,263.3 173.1,264.6 174.1,265.7C175.1,266.9 175.6,269.1 175.1,270.1C174.5,271.1 172.4,271.5 170.7,271.8C169.0,272.0 166.0,272.6 164.9,271.5C163.7,270.4 163.0,266.7 163.8,265.3Z" fill="#9494f2"/>
<path d="M179.3,257.4C179.6,256.7 181.0,256.6 181.4,257.1C181.8,257.7 182.0,260.0 181.7,260.7C181.4,261.4 180.0,261.8 179.6,261.3C179.2,260.7 179.0,258.1 179.3,257.4Z" fill="#9494f2"/>
<path d="M154.7,238.5C154.7,238.8 154.6,239.2 154.4,239.4C154.2,239.7 153.9,239.8 153.7,239.8C153.4,239.8 153.1,239.7 152.9,239.4C152.8,239.2 152.6,238.8 152.6,238.5C152.6,238.2 152.8,237.8 152.9,237.6C153.1,237.4 153.4,237.2 153.7,237.2C153.9,237.2 154.2,237.4 154.4,237.6C154.6,237.8 154.7,238.2 154.7,238.5Z" fill="#bebef8"/>
<path d="M191.2,253.4C192.5,251.5 196.4,250.0 198.0,251.5C199.5,253.1 200.4,259.1 200.6,262.5C200.8,265.9 200.6,270.1 199.3,271.8C197.9,273.6 194.0,274.7 192.5,273.1C191.1,271.6 190.7,265.8 190.5,262.5C190.3,259.2 190.0,255.2 191.2,253.4Z" fill="#fcbebe"/>
<path d="M193.6,261.2C194.2,259.4 196.9,259.0 197.7,260.6C198.5,262.3 198.9,269.0 198.2,270.8C197.6,272.6 194.6,272.9 193.8,271.3C193.1,269.7 192.9,262.9 193.6,261.2Z" fill="#fa9696"/>
<path d="M217.2,269.0C218.8,266.6 223.2,263.9 226.2,262.5C229.2,261.0 233.8,258.0 235.3,260.4C236.8,262.8 238.4,274.1 235.3,276.8C232.2,279.5 219.7,278.1 216.6,276.8C213.6,275.5 215.6,271.4 217.2,269.0Z" fill="#fcbebe"/>
<path d="M226.2,266.9C227.7,264.9 233.8,263.4 235.3,265.1C236.8,266.7 236.8,274.8 235.3,276.8C233.8,278.7 227.7,278.4 226.2,276.8C224.7,275.1 224.7,268.8 226.2,266.9Z" fill="#fa9696"/>
<path d="M182.4,231.2C182.4,231.6 182.2,232.1 182.0,232.3C181.7,232.6 181.2,232.8 180.9,232.8C180.5,232.8 180.0,232.6 179.8,232.3C179.5,232.1 179.3,231.6 179.3,231.2C179.3,230.9 179.5,230.4 179.8,230.1C180.0,229.9 180.5,229.7 180.9,229.7C181.2,229.7 181.7,229.9 182.0,230.1C182.2,230.4 182.4,230.9 182.4,231.2Z" fill="#fcbebe"/>
</g>
</g>
<g clip-path="url(#cp21)">
<rect x="252.3" y="201.2" width="149.0" height="74.0" fill="#e6e8fc"/>
<g filter="url(#bl)">
<path d="M249.7,214.3C256.4,204.1 275.4,215.6 289.9,215.6C304.3,215.6 317.9,214.3 336.5,214.3C355.1,214.3 390.5,205.2 401.3,215.6C412.1,226.0 426.6,266.6 401.3,276.8C376.0,287.0 275.0,287.2 249.7,276.8C224.4,266.4 243.0,224.5 249.7,214.3Z" fill="#fde9e5"/>
<path d="M251.0,226.0C252.3,219.3 257.0,223.9 258.8,227.3C260.5,230.8 261.8,240.1 261.4,246.9C260.9,253.6 257.9,264.2 256.2,267.7C254.5,271.1 251.9,274.6 251.0,267.7C250.1,260.7 249.7,232.8 251.0,226.0Z" fill="#e6e8fc"/>
<path d="M276.9,215.6C278.6,214.3 289.4,216.7 292.5,218.2C295.5,219.7 296.8,223.4 295.1,224.7C293.3,226.0 285.1,227.5 282.1,226.0C279.1,224.5 275.2,216.9 276.9,215.6Z" fill="#e6e8fc"/>
<path d="M339.1,215.6C341.7,214.5 351.2,216.5 354.7,218.2C358.1,220.0 360.7,224.3 359.8,226.0C359.0,227.8 352.9,228.8 349.5,228.6C346.0,228.4 340.8,226.9 339.1,224.7C337.4,222.6 336.5,216.7 339.1,215.6Z" fill="#e6e8fc"/>
<path d="M380.6,223.4C382.7,221.9 392.9,222.6 396.1,224.7C399.4,226.9 400.9,234.1 400.0,236.4C399.1,238.8 393.7,239.5 390.9,239.0C388.1,238.6 384.9,236.4 383.2,233.8C381.4,231.2 378.4,224.9 380.6,223.4Z" fill="#e6e8fc"/>
<path d="M265.3,229.9C266.1,228.5 269.8,227.5 271.7,228.1C273.7,228.8 275.8,231.4 276.9,233.8C278.0,236.3 278.9,241.1 278.5,242.9C278.0,244.8 275.9,245.0 274.3,244.8C272.8,244.6 270.4,243.0 269.1,241.6C267.8,240.3 267.2,238.4 266.5,236.4C265.9,234.5 264.4,231.3 265.3,229.9Z" fill="#fcbebe"/>
<path d="M282.1,231.8C282.4,229.6 284.5,229.4 285.2,231.2C285.9,233.1 286.6,240.8 286.2,242.9C285.9,245.1 283.8,246.1 283.1,244.2C282.4,242.4 281.8,233.9 282.1,231.8Z" fill="#fcbebe"/>
<path d="M274.8,253.9C274.8,254.3 274.7,254.9 274.5,255.2C274.4,255.5 274.0,255.7 273.8,255.7C273.6,255.7 273.2,255.5 273.1,255.2C272.9,254.9 272.8,254.3 272.8,253.9C272.8,253.5 272.9,252.9 273.1,252.6C273.2,252.3 273.6,252.1 273.8,252.1C274.0,252.1 274.4,252.3 274.5,252.6C274.7,252.9 274.8,253.5 274.8,253.9Z" fill="#fcbebe"/>
<path d="M289.9,227.3C291.2,225.9 294.2,225.1 296.3,225.2C298.5,225.4 301.1,226.7 302.8,228.1C304.6,229.5 306.5,230.3 307.0,233.8C307.4,237.4 306.1,245.1 305.7,249.5C305.2,253.8 304.8,255.3 304.4,259.9C303.9,264.4 305.6,274.0 303.1,276.8C300.6,279.6 291.7,279.6 289.4,276.8C287.0,274.0 289.2,264.9 288.8,259.9C288.4,254.9 287.1,251.2 287.0,246.9C286.9,242.5 287.8,237.1 288.3,233.8C288.8,230.6 288.5,228.8 289.9,227.3Z" fill="#bebef8"/>
<path d="M292.5,231.2C294.0,229.2 297.0,228.8 298.9,229.4C300.9,230.1 303.5,231.4 304.4,235.1C305.3,238.9 304.8,247.5 304.4,252.1C303.9,256.6 302.4,259.3 301.8,262.5C301.1,265.6 302.1,269.4 300.5,270.8C298.9,272.2 293.8,273.9 292.2,270.8C290.6,267.7 291.3,256.9 290.9,252.1C290.5,247.2 289.6,245.1 289.9,241.6C290.1,238.2 290.9,233.3 292.5,231.2Z" fill="#9494f2"/>
<path d="M296.1,233.8C297.3,231.8 300.4,232.0 301.8,233.3C303.2,234.6 304.2,238.7 304.4,241.6C304.6,244.6 304.0,249.5 303.1,251.3C302.2,253.1 300.3,253.5 298.9,252.6C297.6,251.6 295.3,248.7 294.8,245.6C294.3,242.4 294.9,235.9 296.1,233.8Z" fill="#6868ec"/>
<path d="M298.7,239.8C299.2,238.2 301.8,238.2 302.6,239.8C303.3,241.4 303.6,247.8 303.1,249.5C302.6,251.1 300.2,251.3 299.5,249.7C298.7,248.1 298.2,241.5 298.7,239.8Z" fill="#3c3ce8"/>
<path d="M294.0,254.1C294.8,252.9 298.1,252.9 298.9,254.1C299.8,255.4 300.0,260.2 299.2,261.4C298.4,262.6 295.1,262.6 294.3,261.4C293.4,260.2 293.2,255.4 294.0,254.1Z" fill="#6868ec"/>
<path d="M313.2,226.0C314.1,223.6 317.9,223.3 319.7,224.2C321.4,225.1 323.3,227.5 323.8,231.2C324.3,235.0 323.2,243.1 322.5,246.9C321.9,250.6 321.1,252.9 319.9,253.9C318.8,254.8 316.7,255.1 315.8,252.6C314.8,250.1 314.7,243.5 314.2,239.0C313.8,234.6 312.3,228.5 313.2,226.0Z" fill="#fcbebe"/>
<path d="M316.3,229.2C316.9,226.1 319.3,226.5 320.2,228.1C321.1,229.8 321.5,235.8 321.5,239.0C321.4,242.3 320.7,246.2 319.9,247.4C319.2,248.6 317.4,249.4 316.8,246.3C316.2,243.3 315.7,232.2 316.3,229.2Z" fill="#fa9696"/>
<path d="M325.9,231.2C327.1,229.2 330.9,228.5 332.9,229.4C334.9,230.3 337.0,232.7 338.1,236.4C339.1,240.2 339.5,245.3 339.4,252.1C339.2,258.8 339.4,272.7 337.3,276.8C335.2,280.9 328.6,280.0 326.9,276.8C325.3,273.5 327.7,263.1 327.4,257.3C327.2,251.4 325.6,246.0 325.4,241.6C325.1,237.3 324.6,233.3 325.9,231.2Z" fill="#fcbebe"/>
<path d="M329.5,236.4C330.2,233.5 332.7,233.3 333.9,234.6C335.1,235.9 336.4,238.7 336.8,244.2C337.2,249.8 337.1,263.8 336.3,268.2C335.4,272.6 332.9,273.5 331.8,270.8C330.8,268.1 330.2,257.8 329.8,252.1C329.4,246.3 328.8,239.3 329.5,236.4Z" fill="#fa9696"/>
<path d="M331.6,241.6C332.2,237.6 334.5,237.2 335.2,241.1C335.9,245.0 336.3,261.0 335.7,265.1C335.2,269.2 332.5,269.5 331.8,265.6C331.2,261.7 331.0,245.7 331.6,241.6Z" fill="#fa6969"/>
<path d="M329.5,226.5C329.5,226.9 329.4,227.4 329.3,227.7C329.2,227.9 328.9,228.1 328.7,228.1C328.6,228.1 328.3,227.9 328.2,227.7C328.1,227.4 328.0,226.9 328.0,226.5C328.0,226.2 328.1,225.7 328.2,225.4C328.3,225.2 328.6,225.0 328.7,225.0C328.9,225.0 329.2,225.2 329.3,225.4C329.4,225.7 329.5,226.2 329.5,226.5Z" fill="#fcbebe"/>
<path d="M311.4,259.3C311.9,257.2 314.4,256.7 315.3,258.6C316.1,260.4 316.8,268.1 316.3,270.3C315.8,272.4 313.0,273.4 312.2,271.6C311.3,269.8 310.9,261.5 311.4,259.3Z" fill="#fcbebe"/>
<path d="M350.5,229.4C352.6,227.5 356.9,229.5 359.8,229.9C362.8,230.4 367.0,231.1 368.1,232.3C369.3,233.4 368.2,235.6 366.8,237.0C365.4,238.3 361.0,237.7 359.8,240.3C358.7,243.0 360.3,246.8 360.1,252.8C359.9,258.9 361.8,272.8 358.8,276.8C355.8,280.8 344.8,280.0 342.2,276.8C339.7,273.6 342.7,263.4 343.5,257.5C344.3,251.6 346.0,246.1 347.1,241.4C348.3,236.7 348.4,231.3 350.5,229.4Z" fill="#bebef8"/>
<path d="M344.8,262.5C346.2,259.9 350.6,259.0 352.1,261.4C353.5,263.8 355.0,274.2 353.6,276.8C352.2,279.3 345.0,279.2 343.5,276.8C342.0,274.4 343.4,265.0 344.8,262.5Z" fill="#9494f2"/>
<path d="M358.3,248.4C358.3,248.8 358.1,249.4 358.0,249.7C357.8,250.0 357.5,250.2 357.2,250.2C357.0,250.2 356.7,250.0 356.5,249.7C356.3,249.4 356.2,248.8 356.2,248.4C356.2,248.0 356.3,247.4 356.5,247.1C356.7,246.8 357.0,246.6 357.2,246.6C357.5,246.6 357.8,246.8 358.0,247.1C358.1,247.4 358.3,248.0 358.3,248.4Z" fill="#e6e8fc"/>
<path d="M376.4,235.9C377.0,234.7 379.8,234.7 380.6,235.9C381.3,237.1 381.4,241.7 380.8,242.9C380.2,244.2 377.7,244.4 376.9,243.2C376.2,242.0 375.8,237.1 376.4,235.9Z" fill="#bebef8"/>
<path d="M372.8,253.4C373.4,251.1 376.9,250.5 378.0,252.1C379.1,253.6 380.1,260.2 379.5,262.5C378.9,264.7 375.5,267.1 374.3,265.6C373.2,264.1 372.2,255.6 372.8,253.4Z" fill="#bebef8"/>
<path d="M359.8,268.2C361.6,266.6 368.9,265.7 370.7,267.2C372.5,268.6 372.5,275.2 370.7,276.8C368.9,278.4 361.6,278.2 359.8,276.8C358.0,275.4 358.0,269.8 359.8,268.2Z" fill="#bebef8"/>
<path d="M366.1,248.2C366.4,244.8 368.4,244.8 368.9,248.2C369.4,251.5 369.6,264.9 369.2,268.2C368.8,271.5 367.1,271.5 366.6,268.2C366.1,264.9 365.7,251.5 366.1,248.2Z" fill="#fcbebe"/>
<path d="M394.8,237.7C395.9,237.0 400.2,236.6 401.3,237.2C402.4,237.9 402.3,240.9 401.3,241.6C400.3,242.4 396.2,242.3 395.1,241.6C394.0,241.0 393.8,238.5 394.8,237.7Z" fill="#fcbebe"/>
</g>
</g>
<g clip-path="url(#cp22)">
<rect x="418.1" y="200.8" width="148.9" height="74.1" fill="#e6e8fc"/>
<g filter="url(#bl)">
<path d="M421.9,215.6C423.6,214.7 431.4,214.3 433.5,215.1C435.7,215.9 436.6,219.3 434.8,220.3C433.1,221.3 425.3,221.6 423.2,220.8C421.0,220.0 420.2,216.6 421.9,215.6Z" fill="#fde9e5"/>
<path d="M441.3,214.3C445.9,210.8 459.5,212.5 469.8,212.5C480.2,212.5 497.7,210.8 503.5,214.3C509.3,217.9 508.3,230.2 504.8,233.8C501.4,237.5 490.8,235.6 482.8,236.4C474.8,237.3 463.6,239.5 456.9,239.0C450.2,238.6 445.2,238.0 442.6,233.8C440.0,229.7 436.8,217.9 441.3,214.3Z" fill="#fde9e5"/>
<path d="M427.1,226.0C428.8,224.1 436.6,224.3 438.7,226.0C440.9,227.8 441.8,234.5 440.0,236.4C438.3,238.4 430.5,239.5 428.4,237.7C426.2,236.0 425.3,228.0 427.1,226.0Z" fill="#fde9e5"/>
<path d="M485.4,246.9C488.4,241.6 501.4,240.6 504.8,245.6C508.3,250.5 509.1,271.6 506.1,276.8C503.1,282.0 490.1,281.8 486.7,276.8C483.2,271.8 482.4,252.1 485.4,246.9Z" fill="#fde9e5"/>
<path d="M442.6,261.9C444.8,259.3 453.2,258.7 455.6,261.2C457.9,263.6 459.0,274.2 456.9,276.8C454.7,279.4 445.0,279.3 442.6,276.8C440.2,274.3 440.5,264.6 442.6,261.9Z" fill="#fde9e5"/>
<path d="M535.9,215.6C538.9,213.7 552.5,214.3 557.9,214.3C563.3,214.3 566.6,213.2 568.3,215.6C570.0,218.0 570.9,226.5 568.3,228.6C565.7,230.8 557.5,229.1 552.7,228.6C548.0,228.2 542.6,228.2 539.8,226.0C537.0,223.9 532.9,217.6 535.9,215.6Z" fill="#fde9e5"/>
<path d="M548.9,227.3C551.2,224.7 559.1,223.6 561.8,226.0C564.5,228.4 565.2,236.7 565.2,241.6C565.2,246.6 564.3,253.6 561.8,256.0C559.3,258.3 552.5,258.3 550.2,256.0C547.8,253.6 547.8,246.4 547.6,241.6C547.3,236.9 546.5,229.9 548.9,227.3Z" fill="#fde9e5"/>
<path d="M508.7,220.8C510.9,214.7 517.7,215.6 521.7,215.1C525.6,214.6 530.5,207.4 532.5,217.7C534.6,228.0 537.5,266.9 533.8,276.8C530.2,286.6 515.0,280.9 510.8,276.8C506.5,272.7 508.5,261.4 508.2,252.1C507.8,242.7 506.4,227.0 508.7,220.8Z" fill="#fde9e5"/>
<path d="M446.0,226.0C446.7,224.9 449.4,224.2 450.4,225.5C451.4,226.8 452.2,231.9 451.9,233.8C451.7,235.7 450.0,237.2 449.1,237.0C448.1,236.7 446.8,234.4 446.2,232.5C445.7,230.7 445.3,227.2 446.0,226.0Z" fill="#fcbebe"/>
<path d="M451.7,270.8C451.7,271.3 451.5,271.9 451.2,272.3C451.0,272.6 450.5,272.9 450.1,272.9C449.8,272.9 449.3,272.6 449.0,272.3C448.8,271.9 448.6,271.3 448.6,270.8C448.6,270.3 448.8,269.7 449.0,269.3C449.3,269.0 449.8,268.7 450.1,268.7C450.5,268.7 451.0,269.0 451.2,269.3C451.5,269.7 451.7,270.3 451.7,270.8Z" fill="#fcbebe"/>
<path d="M516.5,226.0C518.1,224.1 521.6,222.7 524.2,222.4C526.9,222.1 530.7,220.1 532.3,224.2C533.9,228.3 534.0,240.5 533.8,246.9C533.7,253.2 532.3,257.5 531.2,262.5C530.2,267.5 529.9,274.4 527.4,276.8C524.8,279.2 518.0,279.6 516.0,276.8C513.9,274.0 514.7,264.9 514.9,259.9C515.2,254.9 517.5,251.2 517.5,246.9C517.5,242.5 514.8,237.3 514.7,233.8C514.5,230.4 514.9,227.9 516.5,226.0Z" fill="#fcbebe"/>
<path d="M517.8,229.9C518.7,227.8 522.2,227.0 524.2,226.8C526.3,226.6 529.0,225.7 530.2,228.6C531.4,231.5 532.1,240.7 531.5,244.2C530.9,247.8 528.3,249.5 526.8,250.0C525.4,250.5 524.0,249.1 522.7,247.4C521.3,245.6 519.6,242.5 518.8,239.6C518.0,236.7 516.9,232.1 517.8,229.9Z" fill="#fa9696"/>
<path d="M518.8,259.3C519.3,257.1 522.0,257.0 522.9,258.8C523.9,260.6 525.0,268.1 524.5,270.3C524.0,272.5 521.0,273.9 520.1,272.1C519.1,270.3 518.3,261.6 518.8,259.3Z" fill="#fa9696"/>
<path d="M554.8,232.5C555.6,231.2 558.2,230.2 559.2,231.2C560.2,232.3 561.0,237.0 560.8,239.0C560.6,241.1 559.0,243.5 557.9,243.5C556.9,243.5 555.1,240.9 554.6,239.0C554.0,237.2 554.0,233.8 554.8,232.5Z" fill="#fcbebe"/>
<path d="M458.9,239.0C459.9,236.8 463.0,234.1 464.6,233.3C466.3,232.6 467.8,233.0 468.8,234.6C469.7,236.2 469.2,241.2 470.3,242.9C471.5,244.7 473.6,245.4 475.5,245.3C477.4,245.2 479.6,242.7 481.7,242.4C483.9,242.2 486.5,243.1 488.2,243.7C490.0,244.4 490.8,246.3 492.1,246.3C493.4,246.3 494.7,243.9 496.0,243.7C497.3,243.6 499.9,244.1 500.1,245.3C500.4,246.5 498.8,249.6 497.3,251.0C495.7,252.4 493.0,252.8 490.8,253.6C488.7,254.5 486.3,254.7 484.3,256.2C482.4,257.7 480.9,260.7 479.2,262.5C477.4,264.2 475.5,264.8 474.0,266.6C472.5,268.5 471.1,271.7 470.1,273.4C469.0,275.1 469.6,276.2 467.8,276.8C465.9,277.4 460.1,278.3 458.9,276.8C457.8,275.3 459.6,270.5 460.8,267.7C461.9,264.9 465.3,262.5 465.7,259.9C466.1,257.3 464.2,254.2 463.1,252.1C462.0,249.9 459.6,249.0 458.9,246.9C458.3,244.7 458.0,241.3 458.9,239.0Z" fill="#bebef8"/>
<path d="M461.5,239.6C462.3,238.3 465.9,238.0 467.0,239.0C468.0,240.1 468.5,244.6 467.8,245.8C467.0,247.0 463.3,247.4 462.3,246.3C461.3,245.3 460.8,240.8 461.5,239.6Z" fill="#9494f2"/>
<path d="M477.1,245.6C478.2,244.2 484.2,243.9 485.9,244.8C487.6,245.7 488.6,249.7 487.4,251.0C486.3,252.4 480.9,253.8 479.2,252.8C477.4,251.9 476.0,246.9 477.1,245.6Z" fill="#9494f2"/>
<path d="M468.3,258.3C469.5,257.2 474.6,256.8 476.0,257.8C477.5,258.7 478.0,262.9 476.8,264.0C475.6,265.2 470.2,265.5 468.8,264.6C467.4,263.6 467.1,259.4 468.3,258.3Z" fill="#9494f2"/>
<path d="M461.5,267.2C462.4,265.9 466.2,265.6 467.2,266.6C468.3,267.7 468.6,272.2 467.8,273.4C466.9,274.6 463.1,275.0 462.1,273.9C461.0,272.9 460.7,268.4 461.5,267.2Z" fill="#9494f2"/>
<path d="M465.7,242.4C465.7,242.7 465.5,243.1 465.4,243.3C465.2,243.6 464.9,243.7 464.6,243.7C464.4,243.7 464.1,243.6 463.9,243.3C463.7,243.1 463.6,242.7 463.6,242.4C463.6,242.1 463.7,241.7 463.9,241.5C464.1,241.3 464.4,241.1 464.6,241.1C464.9,241.1 465.2,241.3 465.4,241.5C465.5,241.7 465.7,242.1 465.7,242.4Z" fill="#6868ec"/>
<path d="M484.1,248.4C484.1,248.7 483.9,249.1 483.6,249.3C483.4,249.6 482.9,249.7 482.5,249.7C482.2,249.7 481.7,249.6 481.4,249.3C481.2,249.1 481.0,248.7 481.0,248.4C481.0,248.1 481.2,247.7 481.4,247.5C481.7,247.3 482.2,247.1 482.5,247.1C482.9,247.1 483.4,247.3 483.6,247.5C483.9,247.7 484.1,248.1 484.1,248.4Z" fill="#6868ec"/>
<path d="M497.6,246.9C497.6,247.1 497.4,247.4 497.2,247.6C497.1,247.8 496.8,247.9 496.5,247.9C496.3,247.9 496.0,247.8 495.8,247.6C495.6,247.4 495.5,247.1 495.5,246.9C495.5,246.6 495.6,246.3 495.8,246.1C496.0,245.9 496.3,245.8 496.5,245.8C496.8,245.8 497.1,245.9 497.2,246.1C497.4,246.3 497.6,246.6 497.6,246.9Z" fill="#6868ec"/>
<path d="M465.7,270.3C465.7,270.6 465.5,271.0 465.4,271.2C465.2,271.4 464.9,271.6 464.6,271.6C464.4,271.6 464.1,271.4 463.9,271.2C463.7,271.0 463.6,270.6 463.6,270.3C463.6,270.0 463.7,269.6 463.9,269.4C464.1,269.1 464.4,269.0 464.6,269.0C464.9,269.0 465.2,269.1 465.4,269.4C465.5,269.6 465.7,270.0 465.7,270.3Z" fill="#6868ec"/>
<path d="M438.2,257.3C439.1,256.2 442.9,255.9 443.9,256.7C444.9,257.6 445.3,261.4 444.4,262.5C443.6,263.5 439.8,263.9 438.7,263.0C437.7,262.1 437.3,258.3 438.2,257.3Z" fill="#bebef8"/>
<path d="M542.6,229.4C543.0,226.7 544.8,226.7 545.2,229.4C545.7,232.1 545.9,243.1 545.5,245.8C545.1,248.5 543.4,248.5 542.9,245.8C542.4,243.1 542.3,232.1 542.6,229.4Z" fill="#bebef8"/>
<path d="M542.1,259.3C542.6,257.0 544.7,257.0 545.2,259.3C545.8,261.7 546.0,271.1 545.5,273.4C545.0,275.7 542.9,275.7 542.4,273.4C541.8,271.1 541.6,261.7 542.1,259.3Z" fill="#bebef8"/>
<path d="M443.4,244.2C443.4,244.4 443.3,244.7 443.2,244.8C443.0,244.9 442.8,245.0 442.6,245.0C442.4,245.0 442.2,244.9 442.1,244.8C441.9,244.7 441.8,244.4 441.8,244.2C441.8,244.1 441.9,243.8 442.1,243.7C442.2,243.6 442.4,243.5 442.6,243.5C442.8,243.5 443.0,243.6 443.2,243.7C443.3,243.8 443.4,244.1 443.4,244.2Z" fill="#bebef8"/>
</g>
</g>
<line x1="85.6" y1="87.90" x2="87.8" y2="87.90" stroke="#5c5c64" stroke-width="0.9"/>
<line x1="85.6" y1="69.40" x2="87.8" y2="69.40" stroke="#5c5c64" stroke-width="0.9"/>
<line x1="85.6" y1="50.90" x2="87.8" y2="50.90" stroke="#5c5c64" stroke-width="0.9"/>
<line x1="85.6" y1="32.40" x2="87.8" y2="32.40" stroke="#5c5c64" stroke-width="0.9"/>
<line x1="85.6" y1="13.90" x2="87.8" y2="13.90" stroke="#5c5c64" stroke-width="0.9"/>
<line x1="139.7" y1="87.90" x2="139.7" y2="85.70" stroke="#5c5c64" stroke-width="0.9"/>
<line x1="139.7" y1="13.90" x2="139.7" y2="16.10" stroke="#5c5c64" stroke-width="0.9"/>
<rect x="85.6" y="13.9" width="148.7" height="74.0" fill="none" stroke="#5c5c64" stroke-width="1.1"/>
<rect x="169.5" y="14.7" width="63.6" height="72.2" fill="none" stroke="#ff0000" stroke-width="2.2"/>
<text x="86.9" y="22.5" font-size="8.5" fill="#111">(a)</text>
<text x="83.0" y="90.6" font-size="8.6" fill="#000" text-anchor="end">0</text>
<text x="83.0" y="72.1" font-size="8.6" fill="#000" text-anchor="end">5</text>
<text x="83.0" y="53.6" font-size="8.6" fill="#000" text-anchor="end">10</text>
<text x="83.0" y="35.1" font-size="8.6" fill="#000" text-anchor="end">15</text>
<text x="83.0" y="16.6" font-size="8.6" fill="#000" text-anchor="end">20</text>
<text x="0" y="0" font-size="8.7" fill="#000" text-anchor="middle" transform="translate(69.3,49.0) rotate(-90)">Height (km)</text>
<text x="139.7" y="97.3" font-size="9" fill="#000" text-anchor="middle">5 Jan</text>
<line x1="250.1" y1="87.70" x2="251.9" y2="87.70" stroke="#5c5c64" stroke-width="0.9"/>
<line x1="250.1" y1="69.12" x2="251.9" y2="69.12" stroke="#5c5c64" stroke-width="0.9"/>
<line x1="250.1" y1="50.55" x2="251.9" y2="50.55" stroke="#5c5c64" stroke-width="0.9"/>
<line x1="250.1" y1="31.98" x2="251.9" y2="31.98" stroke="#5c5c64" stroke-width="0.9"/>
<line x1="250.1" y1="13.40" x2="251.9" y2="13.40" stroke="#5c5c64" stroke-width="0.9"/>
<line x1="273.8" y1="87.70" x2="273.8" y2="89.50" stroke="#5c5c64" stroke-width="0.9"/>
<line x1="318.2" y1="87.70" x2="318.2" y2="89.50" stroke="#5c5c64" stroke-width="0.9"/>
<line x1="362.5" y1="87.70" x2="362.5" y2="89.50" stroke="#5c5c64" stroke-width="0.9"/>
<rect x="251.9" y="13.4" width="148.5" height="74.3" fill="none" stroke="#5c5c64" stroke-width="1.1"/>
<rect x="304.1" y="14.2" width="29.7" height="72.5" fill="none" stroke="#ff0000" stroke-width="2.2"/>
<text x="253.2" y="22.9" font-size="8.9" fill="#111">(b)</text>
<text x="273.8" y="98.1" font-size="9" fill="#000" text-anchor="middle">26 Jan</text>
<text x="318.2" y="98.1" font-size="9" fill="#000" text-anchor="middle">27 Jan</text>
<text x="362.5" y="98.1" font-size="9" fill="#000" text-anchor="middle">28 Jan</text>
<line x1="416.7" y1="87.00" x2="418.5" y2="87.00" stroke="#5c5c64" stroke-width="0.9"/>
<line x1="416.7" y1="68.47" x2="418.5" y2="68.47" stroke="#5c5c64" stroke-width="0.9"/>
<line x1="416.7" y1="49.95" x2="418.5" y2="49.95" stroke="#5c5c64" stroke-width="0.9"/>
<line x1="416.7" y1="31.43" x2="418.5" y2="31.43" stroke="#5c5c64" stroke-width="0.9"/>
<line x1="416.7" y1="12.90" x2="418.5" y2="12.90" stroke="#5c5c64" stroke-width="0.9"/>
<line x1="449.9" y1="87.00" x2="449.9" y2="88.80" stroke="#5c5c64" stroke-width="0.9"/>
<line x1="512.7" y1="87.00" x2="512.7" y2="88.80" stroke="#5c5c64" stroke-width="0.9"/>
<rect x="418.5" y="12.9" width="149.0" height="74.1" fill="none" stroke="#5c5c64" stroke-width="1.1"/>
<rect x="503.2" y="13.7" width="29.4" height="72.3" fill="none" stroke="#ff0000" stroke-width="2.2"/>
<text x="419.8" y="22.4" font-size="8.9" fill="#111">(c)</text>
<text x="450.1" y="97.4" font-size="9" fill="#000" text-anchor="middle">29 Jan</text>
<text x="512.9" y="97.4" font-size="9" fill="#000" text-anchor="middle">30 Jan</text>
<line x1="86.0" y1="181.70" x2="88.2" y2="181.70" stroke="#5c5c64" stroke-width="0.9"/>
<line x1="86.0" y1="163.06" x2="88.2" y2="163.06" stroke="#5c5c64" stroke-width="0.9"/>
<line x1="86.0" y1="144.43" x2="88.2" y2="144.43" stroke="#5c5c64" stroke-width="0.9"/>
<line x1="86.0" y1="125.79" x2="88.2" y2="125.79" stroke="#5c5c64" stroke-width="0.9"/>
<line x1="86.0" y1="107.15" x2="88.2" y2="107.15" stroke="#5c5c64" stroke-width="0.9"/>
<line x1="140.2" y1="181.70" x2="140.2" y2="179.50" stroke="#5c5c64" stroke-width="0.9"/>
<line x1="140.2" y1="107.15" x2="140.2" y2="109.35" stroke="#5c5c64" stroke-width="0.9"/>
<rect x="86.0" y="107.2" width="148.4" height="74.5" fill="none" stroke="#5c5c64" stroke-width="1.1"/>
<rect x="169.9" y="108.0" width="63.6" height="72.7" fill="none" stroke="#ff0000" stroke-width="2.2"/>
<text x="87.3" y="115.8" font-size="8.5" fill="#111">(d)</text>
<text x="83.5" y="184.4" font-size="8.6" fill="#000" text-anchor="end">0</text>
<text x="83.5" y="165.8" font-size="8.6" fill="#000" text-anchor="end">5</text>
<text x="83.5" y="147.1" font-size="8.6" fill="#000" text-anchor="end">10</text>
<text x="83.5" y="128.5" font-size="8.6" fill="#000" text-anchor="end">15</text>
<text x="83.5" y="109.9" font-size="8.6" fill="#000" text-anchor="end">20</text>
<text x="0" y="0" font-size="8.7" fill="#000" text-anchor="middle" transform="translate(69.3,144.4) rotate(-90)">Height (km)</text>
<text x="140.2" y="191.1" font-size="9" fill="#000" text-anchor="middle">5 Jan</text>
<line x1="250.2" y1="181.30" x2="252.1" y2="181.30" stroke="#5c5c64" stroke-width="0.9"/>
<line x1="250.2" y1="162.85" x2="252.1" y2="162.85" stroke="#5c5c64" stroke-width="0.9"/>
<line x1="250.2" y1="144.40" x2="252.1" y2="144.40" stroke="#5c5c64" stroke-width="0.9"/>
<line x1="250.2" y1="125.95" x2="252.1" y2="125.95" stroke="#5c5c64" stroke-width="0.9"/>
<line x1="250.2" y1="107.50" x2="252.1" y2="107.50" stroke="#5c5c64" stroke-width="0.9"/>
<line x1="273.9" y1="181.30" x2="273.9" y2="183.10" stroke="#5c5c64" stroke-width="0.9"/>
<line x1="318.4" y1="181.30" x2="318.4" y2="183.10" stroke="#5c5c64" stroke-width="0.9"/>
<line x1="362.6" y1="181.30" x2="362.6" y2="183.10" stroke="#5c5c64" stroke-width="0.9"/>
<rect x="252.1" y="107.5" width="149.1" height="73.8" fill="none" stroke="#5c5c64" stroke-width="1.1"/>
<rect x="304.2" y="108.3" width="29.7" height="72.0" fill="none" stroke="#ff0000" stroke-width="2.2"/>
<text x="253.4" y="117.0" font-size="8.9" fill="#111">(e)</text>
<text x="273.9" y="191.7" font-size="9" fill="#000" text-anchor="middle">26 Jan</text>
<text x="318.4" y="191.7" font-size="9" fill="#000" text-anchor="middle">27 Jan</text>
<text x="362.6" y="191.7" font-size="9" fill="#000" text-anchor="middle">28 Jan</text>
<line x1="417.2" y1="180.90" x2="419.0" y2="180.90" stroke="#5c5c64" stroke-width="0.9"/>
<line x1="417.2" y1="162.38" x2="419.0" y2="162.38" stroke="#5c5c64" stroke-width="0.9"/>
<line x1="417.2" y1="143.85" x2="419.0" y2="143.85" stroke="#5c5c64" stroke-width="0.9"/>
<line x1="417.2" y1="125.33" x2="419.0" y2="125.33" stroke="#5c5c64" stroke-width="0.9"/>
<line x1="417.2" y1="106.80" x2="419.0" y2="106.80" stroke="#5c5c64" stroke-width="0.9"/>
<line x1="450.4" y1="180.90" x2="450.4" y2="182.70" stroke="#5c5c64" stroke-width="0.9"/>
<line x1="513.2" y1="180.90" x2="513.2" y2="182.70" stroke="#5c5c64" stroke-width="0.9"/>
<rect x="419.0" y="106.8" width="149.1" height="74.1" fill="none" stroke="#5c5c64" stroke-width="1.1"/>
<rect x="503.7" y="107.6" width="29.4" height="72.3" fill="none" stroke="#ff0000" stroke-width="2.2"/>
<text x="420.3" y="116.3" font-size="8.9" fill="#111">(f)</text>
<text x="450.6" y="191.3" font-size="9" fill="#000" text-anchor="middle">29 Jan</text>
<text x="513.4" y="191.3" font-size="9" fill="#000" text-anchor="middle">30 Jan</text>
<line x1="86.0" y1="274.80" x2="88.2" y2="274.80" stroke="#5c5c64" stroke-width="0.9"/>
<line x1="86.0" y1="256.25" x2="88.2" y2="256.25" stroke="#5c5c64" stroke-width="0.9"/>
<line x1="86.0" y1="237.70" x2="88.2" y2="237.70" stroke="#5c5c64" stroke-width="0.9"/>
<line x1="86.0" y1="219.15" x2="88.2" y2="219.15" stroke="#5c5c64" stroke-width="0.9"/>
<line x1="86.0" y1="200.60" x2="88.2" y2="200.60" stroke="#5c5c64" stroke-width="0.9"/>
<line x1="140.1" y1="274.80" x2="140.1" y2="272.60" stroke="#5c5c64" stroke-width="0.9"/>
<line x1="140.1" y1="200.60" x2="140.1" y2="202.80" stroke="#5c5c64" stroke-width="0.9"/>
<rect x="86.0" y="200.6" width="148.5" height="74.2" fill="none" stroke="#5c5c64" stroke-width="1.1"/>
<rect x="169.9" y="201.4" width="63.6" height="72.4" fill="none" stroke="#ff0000" stroke-width="2.2"/>
<text x="87.3" y="209.2" font-size="8.5" fill="#111">(g)</text>
<text x="83.4" y="277.5" font-size="8.6" fill="#000" text-anchor="end">0</text>
<text x="83.4" y="258.9" font-size="8.6" fill="#000" text-anchor="end">5</text>
<text x="83.4" y="240.4" font-size="8.6" fill="#000" text-anchor="end">10</text>
<text x="83.4" y="221.8" font-size="8.6" fill="#000" text-anchor="end">15</text>
<text x="83.4" y="203.3" font-size="8.6" fill="#000" text-anchor="end">20</text>
<text x="0" y="0" font-size="8.7" fill="#000" text-anchor="middle" transform="translate(69.3,237.0) rotate(-90)">Height (km)</text>
<text x="140.1" y="284.2" font-size="9" fill="#000" text-anchor="middle">5 Jan</text>
<line x1="250.5" y1="275.15" x2="252.3" y2="275.15" stroke="#5c5c64" stroke-width="0.9"/>
<line x1="250.5" y1="256.65" x2="252.3" y2="256.65" stroke="#5c5c64" stroke-width="0.9"/>
<line x1="250.5" y1="238.15" x2="252.3" y2="238.15" stroke="#5c5c64" stroke-width="0.9"/>
<line x1="250.5" y1="219.65" x2="252.3" y2="219.65" stroke="#5c5c64" stroke-width="0.9"/>
<line x1="250.5" y1="201.15" x2="252.3" y2="201.15" stroke="#5c5c64" stroke-width="0.9"/>
<line x1="274.2" y1="275.15" x2="274.2" y2="276.95" stroke="#5c5c64" stroke-width="0.9"/>
<line x1="318.6" y1="275.15" x2="318.6" y2="276.95" stroke="#5c5c64" stroke-width="0.9"/>
<line x1="362.9" y1="275.15" x2="362.9" y2="276.95" stroke="#5c5c64" stroke-width="0.9"/>
<rect x="252.3" y="201.2" width="149.0" height="74.0" fill="none" stroke="#5c5c64" stroke-width="1.1"/>
<rect x="304.6" y="202.0" width="29.7" height="72.2" fill="none" stroke="#ff0000" stroke-width="2.2"/>
<text x="253.7" y="210.7" font-size="8.9" fill="#111">(h)</text>
<text x="274.2" y="285.5" font-size="9" fill="#000" text-anchor="middle">26 Jan</text>
<text x="318.6" y="285.5" font-size="9" fill="#000" text-anchor="middle">27 Jan</text>
<text x="362.9" y="285.5" font-size="9" fill="#000" text-anchor="middle">28 Jan</text>
<line x1="416.3" y1="274.90" x2="418.1" y2="274.90" stroke="#5c5c64" stroke-width="0.9"/>
<line x1="416.3" y1="256.38" x2="418.1" y2="256.38" stroke="#5c5c64" stroke-width="0.9"/>
<line x1="416.3" y1="237.85" x2="418.1" y2="237.85" stroke="#5c5c64" stroke-width="0.9"/>
<line x1="416.3" y1="219.32" x2="418.1" y2="219.32" stroke="#5c5c64" stroke-width="0.9"/>
<line x1="416.3" y1="200.80" x2="418.1" y2="200.80" stroke="#5c5c64" stroke-width="0.9"/>
<line x1="449.5" y1="274.90" x2="449.5" y2="276.70" stroke="#5c5c64" stroke-width="0.9"/>
<line x1="512.4" y1="274.90" x2="512.4" y2="276.70" stroke="#5c5c64" stroke-width="0.9"/>
<rect x="418.1" y="200.8" width="148.9" height="74.1" fill="none" stroke="#5c5c64" stroke-width="1.1"/>
<rect x="502.8" y="201.6" width="29.4" height="72.3" fill="none" stroke="#ff0000" stroke-width="2.2"/>
<text x="419.4" y="210.3" font-size="8.9" fill="#111">(i)</text>
<text x="449.8" y="285.3" font-size="9" fill="#000" text-anchor="middle">29 Jan</text>
<text x="512.5" y="285.3" font-size="9" fill="#000" text-anchor="middle">30 Jan</text>
<text x="158.6" y="7.6" font-size="9" fill="#000" text-anchor="middle">2013</text>
<text x="325.4" y="7.6" font-size="9" fill="#000" text-anchor="middle">2015</text>
<text x="497.0" y="7.6" font-size="9" fill="#000" text-anchor="middle">2018</text>
<text x="1.8" y="54.8" font-size="8.7" fill="#000">ACIs and ARIs</text>
<text x="6.5" y="144.0" font-size="8.7" fill="#000">Without ACIs</text>
<text x="6.2" y="237.2" font-size="8.7" fill="#000">Without ARIs</text>
<rect x="226.70" y="296.8" width="17.27" height="6.8" fill="#1414e6"/>
<rect x="243.67" y="296.8" width="17.27" height="6.8" fill="#4040e8"/>
<rect x="260.65" y="296.8" width="17.27" height="6.8" fill="#6a6aec"/>
<rect x="277.62" y="296.8" width="17.27" height="6.8" fill="#9494f0"/>
<rect x="294.60" y="296.8" width="17.27" height="6.8" fill="#bdbdf6"/>
<rect x="311.57" y="296.8" width="17.27" height="6.8" fill="#e6e6fc"/>
<rect x="328.55" y="296.8" width="17.27" height="6.8" fill="#fde6e6"/>
<rect x="345.52" y="296.8" width="17.27" height="6.8" fill="#fcbdbd"/>
<rect x="362.50" y="296.8" width="17.27" height="6.8" fill="#fa9494"/>
<rect x="379.47" y="296.8" width="17.27" height="6.8" fill="#fa6a6a"/>
<rect x="396.45" y="296.8" width="17.27" height="6.8" fill="#fa4040"/>
<rect x="413.42" y="296.8" width="17.27" height="6.8" fill="#fa1414"/>
<path d="M228.2,296.8 L226.7,296.8 L216.3,300.2 L226.7,303.6 L228.2,303.6 Z" fill="#1414e6"/>
<path d="M428.9,296.8 L430.4,296.8 L440,300.2 L430.4,303.6 L428.9,303.6 Z" fill="#fa1414"/>
<path d="M226.7,296.8 L216.3,300.2 L226.7,303.6 L430.4,303.6 L440,300.2 L430.4,296.8 Z" fill="none" stroke="#444" stroke-width="0.7"/>
<text x="226.7" y="315.3" font-size="12" fill="#000" text-anchor="middle">−6</text>
<text x="277.6" y="315.3" font-size="12" fill="#000" text-anchor="middle">−3</text>
<text x="328.5" y="315.3" font-size="12" fill="#000" text-anchor="middle">0</text>
<text x="379.5" y="315.3" font-size="12" fill="#000" text-anchor="middle">3</text>
<text x="430.4" y="315.3" font-size="12" fill="#000" text-anchor="middle">6</text>
<text x="329" y="325.6" font-size="8.5" fill="#111" text-anchor="middle">dBZ</text>
</svg></body></html>
